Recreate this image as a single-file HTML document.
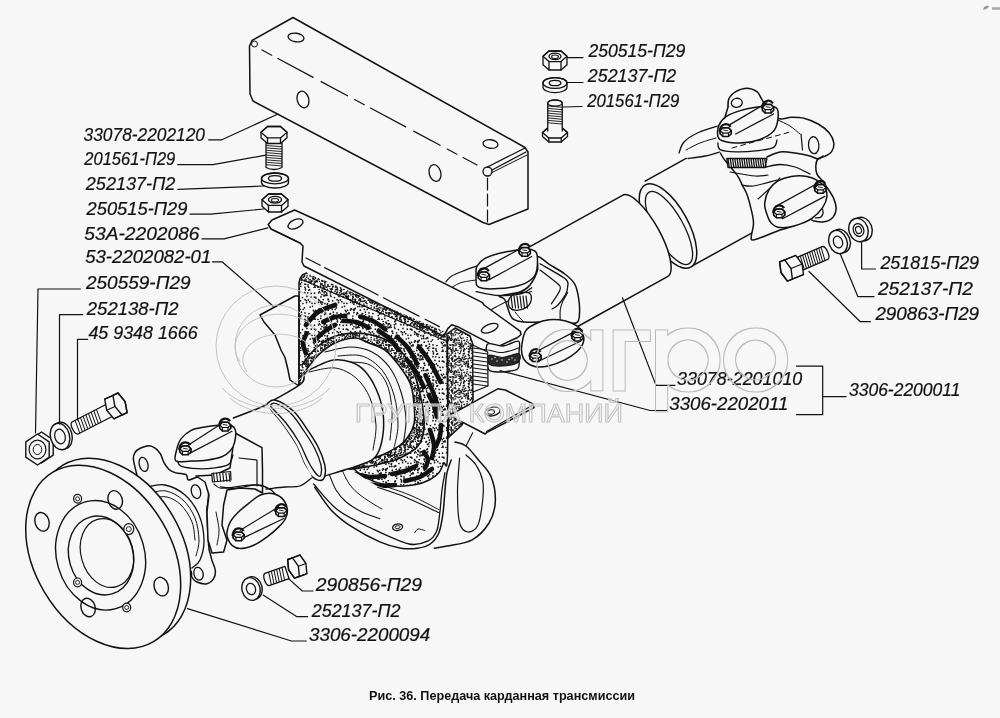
<!DOCTYPE html>
<html><head><meta charset="utf-8"><style>
html,body{margin:0;padding:0;background:#f6f7f6;}
svg{display:block;filter:grayscale(1)}
.lb{font-family:"Liberation Sans",sans-serif;font-style:italic;fill:#111;stroke:#111;stroke-width:0.2px;}
.cap{font-family:"Liberation Sans",sans-serif;font-weight:bold;fill:#111;}
</style></head><body>
<svg width="1000" height="718" viewBox="0 0 1000 718">
<defs><filter id="wmo" x="-5%" y="-5%" width="110%" height="110%"><feMorphology in="SourceAlpha" operator="dilate" radius="0.9" result="d"/><feComposite in="d" in2="SourceAlpha" operator="out" result="o"/><feFlood flood-color="#b9bbb9"/><feComposite in2="o" operator="in"/></filter><pattern id="st1" width="32" height="32" patternUnits="userSpaceOnUse"><circle cx="10.4" cy="4.8" r="0.85" fill="#111"/><circle cx="20.8" cy="2.3" r="0.85" fill="#111"/><circle cx="17.1" cy="11.7" r="0.85" fill="#111"/><circle cx="1.9" cy="16.2" r="0.85" fill="#111"/><circle cx="1.2" cy="13.9" r="0.85" fill="#111"/><circle cx="2.2" cy="2.9" r="0.85" fill="#111"/><circle cx="13.6" cy="26.5" r="0.85" fill="#111"/><circle cx="4.0" cy="7.1" r="0.85" fill="#111"/><circle cx="20.1" cy="30.3" r="0.85" fill="#111"/><circle cx="18.5" cy="12.7" r="0.85" fill="#111"/><circle cx="31.2" cy="1.5" r="0.85" fill="#111"/><circle cx="27.5" cy="9.3" r="0.85" fill="#111"/><circle cx="4.6" cy="3.8" r="0.85" fill="#111"/><circle cx="9.9" cy="26.1" r="0.85" fill="#111"/><circle cx="5.8" cy="18.6" r="0.85" fill="#111"/><circle cx="20.4" cy="11.9" r="0.85" fill="#111"/><circle cx="17.5" cy="2.0" r="0.85" fill="#111"/><circle cx="1.9" cy="6.6" r="0.85" fill="#111"/><circle cx="21.8" cy="13.7" r="0.85" fill="#111"/><circle cx="10.1" cy="18.7" r="0.85" fill="#111"/><circle cx="14.5" cy="9.6" r="0.85" fill="#111"/><circle cx="25.4" cy="22.4" r="0.85" fill="#111"/><circle cx="7.8" cy="18.4" r="0.85" fill="#111"/><circle cx="16.8" cy="28.0" r="0.85" fill="#111"/><circle cx="23.3" cy="9.2" r="0.85" fill="#111"/><circle cx="31.4" cy="3.8" r="0.85" fill="#111"/><circle cx="13.4" cy="24.2" r="0.85" fill="#111"/><circle cx="4.9" cy="15.6" r="0.85" fill="#111"/><circle cx="1.3" cy="21.4" r="0.85" fill="#111"/><circle cx="24.5" cy="18.3" r="0.85" fill="#111"/><circle cx="28.0" cy="10.0" r="0.85" fill="#111"/><circle cx="22.2" cy="19.0" r="0.85" fill="#111"/><circle cx="18.6" cy="14.6" r="0.85" fill="#111"/><circle cx="26.9" cy="30.2" r="0.85" fill="#111"/><circle cx="15.2" cy="21.3" r="0.85" fill="#111"/><circle cx="1.9" cy="22.4" r="0.85" fill="#111"/><circle cx="20.7" cy="31.8" r="0.85" fill="#111"/><circle cx="26.3" cy="9.1" r="0.85" fill="#111"/><circle cx="12.3" cy="21.4" r="0.85" fill="#111"/><circle cx="0.7" cy="14.8" r="0.85" fill="#111"/><circle cx="5.4" cy="3.7" r="0.85" fill="#111"/><circle cx="1.9" cy="24.6" r="0.85" fill="#111"/><circle cx="4.1" cy="7.9" r="0.85" fill="#111"/><circle cx="12.5" cy="27.9" r="0.85" fill="#111"/><circle cx="2.6" cy="14.4" r="0.85" fill="#111"/><circle cx="17.6" cy="28.3" r="0.85" fill="#111"/><circle cx="26.2" cy="27.6" r="0.85" fill="#111"/><circle cx="8.9" cy="13.3" r="0.85" fill="#111"/><circle cx="11.5" cy="28.3" r="0.85" fill="#111"/><circle cx="30.6" cy="4.8" r="0.85" fill="#111"/><circle cx="5.6" cy="7.4" r="0.85" fill="#111"/><circle cx="7.5" cy="15.5" r="0.85" fill="#111"/><circle cx="18.9" cy="8.4" r="0.85" fill="#111"/><circle cx="0.1" cy="13.4" r="0.85" fill="#111"/><circle cx="11.8" cy="18.1" r="0.85" fill="#111"/><circle cx="30.5" cy="22.1" r="0.85" fill="#111"/><circle cx="16.5" cy="19.8" r="0.85" fill="#111"/><circle cx="21.6" cy="1.7" r="0.85" fill="#111"/><circle cx="28.8" cy="25.0" r="0.85" fill="#111"/><circle cx="28.0" cy="25.5" r="0.85" fill="#111"/><circle cx="12.6" cy="12.8" r="0.85" fill="#111"/><circle cx="3.3" cy="20.3" r="0.85" fill="#111"/><circle cx="2.0" cy="2.2" r="0.85" fill="#111"/><circle cx="6.7" cy="5.2" r="0.85" fill="#111"/><circle cx="10.9" cy="1.7" r="0.85" fill="#111"/><circle cx="0.0" cy="4.8" r="0.85" fill="#111"/><circle cx="3.2" cy="11.6" r="0.85" fill="#111"/><circle cx="0.8" cy="28.0" r="0.85" fill="#111"/><circle cx="19.7" cy="4.8" r="0.85" fill="#111"/><circle cx="8.1" cy="11.1" r="0.85" fill="#111"/><circle cx="11.7" cy="3.9" r="0.85" fill="#111"/><circle cx="27.2" cy="31.8" r="0.85" fill="#111"/><circle cx="14.9" cy="15.5" r="0.85" fill="#111"/><circle cx="2.7" cy="3.3" r="0.85" fill="#111"/><circle cx="11.0" cy="8.5" r="0.85" fill="#111"/><circle cx="26.5" cy="5.2" r="0.85" fill="#111"/><circle cx="0.7" cy="30.4" r="0.85" fill="#111"/><circle cx="16.9" cy="4.7" r="0.85" fill="#111"/><circle cx="17.4" cy="0.9" r="0.85" fill="#111"/><circle cx="16.9" cy="31.3" r="0.85" fill="#111"/><circle cx="27.6" cy="22.3" r="0.85" fill="#111"/><circle cx="8.4" cy="11.7" r="0.85" fill="#111"/><circle cx="5.3" cy="24.7" r="0.85" fill="#111"/><circle cx="17.0" cy="24.9" r="0.85" fill="#111"/><circle cx="10.5" cy="7.1" r="0.85" fill="#111"/><circle cx="26.0" cy="31.5" r="0.85" fill="#111"/><circle cx="27.3" cy="25.8" r="0.85" fill="#111"/><circle cx="26.2" cy="23.7" r="0.85" fill="#111"/><circle cx="7.3" cy="16.6" r="0.85" fill="#111"/><circle cx="11.4" cy="0.9" r="0.85" fill="#111"/><circle cx="0.9" cy="8.9" r="0.85" fill="#111"/><circle cx="8.3" cy="22.2" r="0.85" fill="#111"/><circle cx="30.6" cy="14.3" r="0.85" fill="#111"/><circle cx="30.0" cy="31.6" r="0.85" fill="#111"/><circle cx="30.6" cy="11.7" r="0.85" fill="#111"/><circle cx="7.1" cy="7.3" r="0.85" fill="#111"/><circle cx="6.3" cy="6.5" r="0.85" fill="#111"/><circle cx="20.0" cy="28.8" r="0.85" fill="#111"/><circle cx="26.9" cy="15.3" r="0.85" fill="#111"/><circle cx="20.9" cy="25.6" r="0.85" fill="#111"/><circle cx="2.7" cy="21.1" r="0.85" fill="#111"/><circle cx="29.1" cy="25.0" r="0.85" fill="#111"/><circle cx="24.0" cy="15.3" r="0.85" fill="#111"/><circle cx="5.7" cy="25.3" r="0.85" fill="#111"/><circle cx="10.6" cy="25.6" r="0.85" fill="#111"/><circle cx="31.1" cy="12.7" r="0.85" fill="#111"/><circle cx="12.8" cy="30.3" r="0.85" fill="#111"/><circle cx="23.2" cy="5.4" r="0.85" fill="#111"/><circle cx="4.1" cy="4.8" r="0.85" fill="#111"/><circle cx="29.0" cy="25.8" r="0.85" fill="#111"/><circle cx="4.7" cy="26.4" r="0.85" fill="#111"/><circle cx="31.4" cy="21.0" r="0.85" fill="#111"/><circle cx="11.2" cy="17.6" r="0.85" fill="#111"/><circle cx="4.2" cy="0.5" r="0.85" fill="#111"/><circle cx="31.1" cy="20.8" r="0.85" fill="#111"/></pattern><pattern id="st2" width="32" height="32" patternUnits="userSpaceOnUse"><circle cx="16.9" cy="29.9" r="0.62" fill="#111"/><circle cx="13.9" cy="27.9" r="0.62" fill="#111"/><circle cx="26.4" cy="6.8" r="0.62" fill="#111"/><circle cx="8.1" cy="9.4" r="0.62" fill="#111"/><circle cx="7.7" cy="18.8" r="0.62" fill="#111"/><circle cx="8.3" cy="13.4" r="0.62" fill="#111"/><circle cx="4.2" cy="29.1" r="0.62" fill="#111"/><circle cx="11.3" cy="14.7" r="0.62" fill="#111"/><circle cx="18.7" cy="28.9" r="0.62" fill="#111"/><circle cx="13.5" cy="29.4" r="0.62" fill="#111"/><circle cx="16.1" cy="17.0" r="0.62" fill="#111"/><circle cx="16.8" cy="0.6" r="0.62" fill="#111"/><circle cx="14.1" cy="5.9" r="0.62" fill="#111"/><circle cx="0.1" cy="25.6" r="0.62" fill="#111"/><circle cx="5.5" cy="15.2" r="0.62" fill="#111"/><circle cx="23.2" cy="17.8" r="0.62" fill="#111"/><circle cx="10.4" cy="16.6" r="0.62" fill="#111"/><circle cx="17.8" cy="25.1" r="0.62" fill="#111"/><circle cx="3.4" cy="17.9" r="0.62" fill="#111"/><circle cx="8.0" cy="8.9" r="0.62" fill="#111"/><circle cx="24.7" cy="16.2" r="0.62" fill="#111"/><circle cx="18.0" cy="24.3" r="0.62" fill="#111"/><circle cx="29.2" cy="14.2" r="0.62" fill="#111"/><circle cx="19.6" cy="16.2" r="0.62" fill="#111"/><circle cx="16.4" cy="22.2" r="0.62" fill="#111"/><circle cx="14.5" cy="17.1" r="0.62" fill="#111"/><circle cx="15.3" cy="30.1" r="0.62" fill="#111"/><circle cx="22.4" cy="28.0" r="0.62" fill="#111"/><circle cx="30.1" cy="8.3" r="0.62" fill="#111"/><circle cx="17.9" cy="30.2" r="0.62" fill="#111"/><circle cx="26.9" cy="4.4" r="0.62" fill="#111"/><circle cx="3.9" cy="14.1" r="0.62" fill="#111"/><circle cx="2.3" cy="7.7" r="0.62" fill="#111"/><circle cx="2.3" cy="21.4" r="0.62" fill="#111"/><circle cx="25.1" cy="28.7" r="0.62" fill="#111"/><circle cx="4.9" cy="22.9" r="0.62" fill="#111"/><circle cx="21.1" cy="4.6" r="0.62" fill="#111"/><circle cx="28.3" cy="31.0" r="0.62" fill="#111"/><circle cx="7.0" cy="30.5" r="0.62" fill="#111"/><circle cx="12.7" cy="15.6" r="0.62" fill="#111"/><circle cx="31.7" cy="26.6" r="0.62" fill="#111"/><circle cx="5.2" cy="13.8" r="0.62" fill="#111"/><circle cx="16.5" cy="10.9" r="0.62" fill="#111"/><circle cx="6.3" cy="10.2" r="0.62" fill="#111"/><circle cx="23.1" cy="0.6" r="0.62" fill="#111"/><circle cx="17.7" cy="14.1" r="0.62" fill="#111"/><circle cx="0.6" cy="10.6" r="0.62" fill="#111"/><circle cx="20.0" cy="16.4" r="0.62" fill="#111"/><circle cx="2.1" cy="31.5" r="0.62" fill="#111"/><circle cx="25.2" cy="31.1" r="0.62" fill="#111"/><circle cx="3.4" cy="8.5" r="0.62" fill="#111"/><circle cx="1.3" cy="24.9" r="0.62" fill="#111"/><circle cx="8.7" cy="4.1" r="0.62" fill="#111"/><circle cx="13.5" cy="29.2" r="0.62" fill="#111"/><circle cx="26.2" cy="8.3" r="0.62" fill="#111"/><circle cx="4.8" cy="29.4" r="0.62" fill="#111"/><circle cx="18.3" cy="22.4" r="0.62" fill="#111"/><circle cx="2.9" cy="1.8" r="0.62" fill="#111"/><circle cx="22.0" cy="13.6" r="0.62" fill="#111"/><circle cx="2.3" cy="30.0" r="0.62" fill="#111"/><circle cx="20.3" cy="25.7" r="0.62" fill="#111"/><circle cx="2.7" cy="27.4" r="0.62" fill="#111"/><circle cx="2.1" cy="27.6" r="0.62" fill="#111"/><circle cx="14.5" cy="10.9" r="0.62" fill="#111"/><circle cx="17.7" cy="29.7" r="0.62" fill="#111"/><circle cx="8.6" cy="4.1" r="0.62" fill="#111"/><circle cx="16.9" cy="7.6" r="0.62" fill="#111"/><circle cx="3.5" cy="5.2" r="0.62" fill="#111"/><circle cx="1.6" cy="6.5" r="0.62" fill="#111"/><circle cx="10.0" cy="9.8" r="0.62" fill="#111"/><circle cx="24.3" cy="9.3" r="0.62" fill="#111"/><circle cx="16.0" cy="5.7" r="0.62" fill="#111"/><circle cx="11.1" cy="0.6" r="0.62" fill="#111"/><circle cx="8.0" cy="0.5" r="0.62" fill="#111"/><circle cx="23.5" cy="17.6" r="0.62" fill="#111"/><circle cx="6.1" cy="15.2" r="0.62" fill="#111"/><circle cx="29.9" cy="3.4" r="0.62" fill="#111"/><circle cx="26.2" cy="13.8" r="0.62" fill="#111"/><circle cx="15.8" cy="26.7" r="0.62" fill="#111"/><circle cx="12.6" cy="16.2" r="0.62" fill="#111"/><circle cx="22.0" cy="31.4" r="0.62" fill="#111"/><circle cx="11.0" cy="26.6" r="0.62" fill="#111"/><circle cx="22.6" cy="20.4" r="0.62" fill="#111"/><circle cx="13.0" cy="11.1" r="0.62" fill="#111"/><circle cx="1.7" cy="4.2" r="0.62" fill="#111"/><circle cx="2.3" cy="23.7" r="0.62" fill="#111"/><circle cx="8.2" cy="5.2" r="0.62" fill="#111"/><circle cx="2.7" cy="26.9" r="0.62" fill="#111"/><circle cx="27.9" cy="21.5" r="0.62" fill="#111"/><circle cx="9.0" cy="7.8" r="0.62" fill="#111"/><circle cx="9.4" cy="14.7" r="0.62" fill="#111"/><circle cx="5.0" cy="14.3" r="0.62" fill="#111"/><circle cx="8.4" cy="30.8" r="0.62" fill="#111"/><circle cx="31.1" cy="17.5" r="0.62" fill="#111"/><circle cx="7.8" cy="30.9" r="0.62" fill="#111"/><circle cx="9.9" cy="11.4" r="0.62" fill="#111"/><circle cx="0.0" cy="12.2" r="0.62" fill="#111"/><circle cx="15.2" cy="16.1" r="0.62" fill="#111"/><circle cx="6.4" cy="16.2" r="0.62" fill="#111"/><circle cx="0.2" cy="8.5" r="0.62" fill="#111"/><circle cx="2.9" cy="12.8" r="0.62" fill="#111"/><circle cx="1.3" cy="0.7" r="0.62" fill="#111"/><circle cx="9.7" cy="7.4" r="0.62" fill="#111"/><circle cx="18.7" cy="16.9" r="0.62" fill="#111"/><circle cx="24.0" cy="21.0" r="0.62" fill="#111"/><circle cx="22.9" cy="28.1" r="0.62" fill="#111"/><circle cx="12.5" cy="10.4" r="0.62" fill="#111"/><circle cx="31.5" cy="4.8" r="0.62" fill="#111"/><circle cx="23.2" cy="20.6" r="0.62" fill="#111"/><circle cx="1.4" cy="26.7" r="0.62" fill="#111"/><circle cx="28.5" cy="20.1" r="0.62" fill="#111"/><circle cx="23.5" cy="26.0" r="0.62" fill="#111"/><circle cx="4.5" cy="16.8" r="0.62" fill="#111"/><circle cx="16.1" cy="26.7" r="0.62" fill="#111"/><circle cx="25.7" cy="26.4" r="0.62" fill="#111"/><circle cx="18.7" cy="28.6" r="0.62" fill="#111"/><circle cx="21.9" cy="22.2" r="0.62" fill="#111"/><circle cx="7.4" cy="1.0" r="0.62" fill="#111"/><circle cx="4.3" cy="11.5" r="0.62" fill="#111"/><circle cx="3.4" cy="26.7" r="0.62" fill="#111"/><circle cx="17.9" cy="20.1" r="0.62" fill="#111"/><circle cx="20.0" cy="21.8" r="0.62" fill="#111"/><circle cx="15.7" cy="0.1" r="0.62" fill="#111"/><circle cx="25.5" cy="23.9" r="0.62" fill="#111"/><circle cx="16.1" cy="17.1" r="0.62" fill="#111"/><circle cx="21.1" cy="2.1" r="0.62" fill="#111"/><circle cx="23.6" cy="8.1" r="0.62" fill="#111"/><circle cx="2.4" cy="8.5" r="0.62" fill="#111"/><circle cx="23.3" cy="6.6" r="0.62" fill="#111"/><circle cx="23.7" cy="31.2" r="0.62" fill="#111"/><circle cx="15.8" cy="12.2" r="0.62" fill="#111"/><circle cx="15.3" cy="21.9" r="0.62" fill="#111"/><circle cx="24.5" cy="19.7" r="0.62" fill="#111"/><circle cx="20.6" cy="2.5" r="0.62" fill="#111"/><circle cx="4.7" cy="8.1" r="0.62" fill="#111"/><circle cx="23.8" cy="9.7" r="0.62" fill="#111"/><circle cx="18.2" cy="0.4" r="0.62" fill="#111"/><circle cx="1.9" cy="8.6" r="0.62" fill="#111"/><circle cx="21.5" cy="22.1" r="0.62" fill="#111"/><circle cx="21.6" cy="9.3" r="0.62" fill="#111"/><circle cx="16.5" cy="14.9" r="0.62" fill="#111"/><circle cx="14.9" cy="3.8" r="0.62" fill="#111"/><circle cx="28.6" cy="6.4" r="0.62" fill="#111"/><circle cx="31.3" cy="30.0" r="0.62" fill="#111"/><circle cx="0.6" cy="14.7" r="0.62" fill="#111"/><circle cx="26.2" cy="31.0" r="0.62" fill="#111"/><circle cx="14.4" cy="8.6" r="0.62" fill="#111"/><circle cx="6.7" cy="30.3" r="0.62" fill="#111"/><circle cx="6.7" cy="18.6" r="0.62" fill="#111"/><circle cx="4.5" cy="16.8" r="0.62" fill="#111"/><circle cx="30.5" cy="4.2" r="0.62" fill="#111"/><circle cx="26.2" cy="16.3" r="0.62" fill="#111"/><circle cx="28.4" cy="22.5" r="0.62" fill="#111"/><circle cx="7.4" cy="28.7" r="0.62" fill="#111"/><circle cx="15.6" cy="0.8" r="0.62" fill="#111"/><circle cx="0.1" cy="15.7" r="0.62" fill="#111"/><circle cx="14.4" cy="9.7" r="0.62" fill="#111"/><circle cx="4.5" cy="11.0" r="0.62" fill="#111"/><circle cx="10.1" cy="26.9" r="0.62" fill="#111"/><circle cx="0.1" cy="24.0" r="0.62" fill="#111"/><circle cx="26.9" cy="3.8" r="0.62" fill="#111"/><circle cx="29.6" cy="22.8" r="0.62" fill="#111"/><circle cx="28.9" cy="9.3" r="0.62" fill="#111"/><circle cx="11.9" cy="12.6" r="0.62" fill="#111"/><circle cx="32.0" cy="18.9" r="0.62" fill="#111"/><circle cx="11.5" cy="13.7" r="0.62" fill="#111"/><circle cx="8.8" cy="1.5" r="0.62" fill="#111"/><circle cx="3.3" cy="26.7" r="0.62" fill="#111"/><circle cx="9.1" cy="29.9" r="0.62" fill="#111"/><circle cx="8.0" cy="8.5" r="0.62" fill="#111"/><circle cx="16.4" cy="6.1" r="0.62" fill="#111"/><circle cx="11.9" cy="30.6" r="0.62" fill="#111"/><circle cx="28.3" cy="26.0" r="0.62" fill="#111"/><circle cx="20.2" cy="29.2" r="0.62" fill="#111"/><circle cx="30.1" cy="17.6" r="0.62" fill="#111"/><circle cx="23.0" cy="1.6" r="0.62" fill="#111"/><circle cx="23.4" cy="14.4" r="0.62" fill="#111"/><circle cx="24.1" cy="20.6" r="0.62" fill="#111"/><circle cx="9.2" cy="1.6" r="0.62" fill="#111"/><circle cx="29.7" cy="4.1" r="0.62" fill="#111"/><circle cx="15.1" cy="11.0" r="0.62" fill="#111"/><circle cx="9.5" cy="23.6" r="0.62" fill="#111"/><circle cx="31.2" cy="8.3" r="0.62" fill="#111"/><circle cx="21.0" cy="9.6" r="0.62" fill="#111"/><circle cx="17.8" cy="12.6" r="0.62" fill="#111"/><circle cx="5.4" cy="5.2" r="0.62" fill="#111"/><circle cx="6.7" cy="29.0" r="0.62" fill="#111"/><circle cx="15.9" cy="7.0" r="0.62" fill="#111"/><circle cx="29.0" cy="31.9" r="0.62" fill="#111"/><circle cx="14.4" cy="4.5" r="0.62" fill="#111"/><circle cx="6.2" cy="2.9" r="0.62" fill="#111"/><circle cx="10.9" cy="2.9" r="0.62" fill="#111"/><circle cx="7.7" cy="8.3" r="0.62" fill="#111"/><circle cx="18.2" cy="28.4" r="0.62" fill="#111"/><circle cx="24.0" cy="13.2" r="0.62" fill="#111"/><circle cx="13.2" cy="16.8" r="0.62" fill="#111"/><circle cx="12.1" cy="10.8" r="0.62" fill="#111"/><circle cx="2.0" cy="8.9" r="0.62" fill="#111"/><circle cx="31.0" cy="4.0" r="0.62" fill="#111"/><circle cx="16.1" cy="20.1" r="0.62" fill="#111"/><circle cx="27.6" cy="6.9" r="0.62" fill="#111"/><circle cx="8.7" cy="8.0" r="0.62" fill="#111"/><circle cx="12.8" cy="14.3" r="0.62" fill="#111"/><circle cx="30.5" cy="27.2" r="0.62" fill="#111"/><circle cx="27.9" cy="0.7" r="0.62" fill="#111"/><circle cx="1.0" cy="22.7" r="0.62" fill="#111"/><circle cx="28.7" cy="15.1" r="0.62" fill="#111"/><circle cx="18.8" cy="0.0" r="0.62" fill="#111"/><circle cx="12.5" cy="29.7" r="0.62" fill="#111"/><circle cx="26.4" cy="27.4" r="0.62" fill="#111"/><circle cx="31.1" cy="8.0" r="0.62" fill="#111"/><circle cx="3.5" cy="4.9" r="0.62" fill="#111"/><circle cx="16.7" cy="21.8" r="0.62" fill="#111"/><circle cx="30.1" cy="23.1" r="0.62" fill="#111"/><circle cx="20.7" cy="24.5" r="0.62" fill="#111"/><circle cx="14.6" cy="17.6" r="0.62" fill="#111"/><circle cx="1.3" cy="25.0" r="0.62" fill="#111"/><circle cx="7.4" cy="29.4" r="0.62" fill="#111"/><circle cx="20.7" cy="9.7" r="0.62" fill="#111"/><circle cx="4.1" cy="8.1" r="0.62" fill="#111"/><circle cx="20.4" cy="22.4" r="0.62" fill="#111"/><circle cx="3.6" cy="2.3" r="0.62" fill="#111"/><circle cx="16.8" cy="18.7" r="0.62" fill="#111"/><circle cx="12.4" cy="7.2" r="0.62" fill="#111"/><circle cx="19.2" cy="0.3" r="0.62" fill="#111"/><circle cx="9.6" cy="14.7" r="0.62" fill="#111"/><circle cx="30.7" cy="20.6" r="0.62" fill="#111"/><circle cx="28.3" cy="15.2" r="0.62" fill="#111"/><circle cx="7.5" cy="7.9" r="0.62" fill="#111"/><circle cx="30.7" cy="22.5" r="0.62" fill="#111"/><circle cx="9.8" cy="0.7" r="0.62" fill="#111"/><circle cx="15.9" cy="21.6" r="0.62" fill="#111"/><circle cx="13.4" cy="8.2" r="0.62" fill="#111"/><circle cx="21.4" cy="29.6" r="0.62" fill="#111"/><circle cx="7.3" cy="1.1" r="0.62" fill="#111"/><circle cx="10.8" cy="13.5" r="0.62" fill="#111"/><circle cx="21.8" cy="6.3" r="0.62" fill="#111"/><circle cx="25.5" cy="23.7" r="0.62" fill="#111"/><circle cx="16.2" cy="6.6" r="0.62" fill="#111"/><circle cx="31.0" cy="10.0" r="0.62" fill="#111"/><circle cx="26.2" cy="7.4" r="0.62" fill="#111"/><circle cx="7.1" cy="24.3" r="0.62" fill="#111"/><circle cx="9.4" cy="30.5" r="0.62" fill="#111"/><circle cx="15.9" cy="6.0" r="0.62" fill="#111"/><circle cx="7.1" cy="13.3" r="0.62" fill="#111"/><circle cx="21.3" cy="30.4" r="0.62" fill="#111"/><circle cx="4.7" cy="12.6" r="0.62" fill="#111"/><circle cx="6.8" cy="31.2" r="0.62" fill="#111"/><circle cx="4.5" cy="1.7" r="0.62" fill="#111"/><circle cx="1.9" cy="12.6" r="0.62" fill="#111"/><circle cx="28.7" cy="28.3" r="0.62" fill="#111"/><circle cx="23.4" cy="31.9" r="0.62" fill="#111"/><circle cx="29.8" cy="10.5" r="0.62" fill="#111"/><circle cx="5.9" cy="29.9" r="0.62" fill="#111"/><circle cx="23.9" cy="1.0" r="0.62" fill="#111"/><circle cx="21.3" cy="12.1" r="0.62" fill="#111"/><circle cx="12.0" cy="10.6" r="0.62" fill="#111"/><circle cx="5.4" cy="0.1" r="0.62" fill="#111"/><circle cx="9.0" cy="11.2" r="0.62" fill="#111"/><circle cx="30.6" cy="4.0" r="0.62" fill="#111"/><circle cx="30.9" cy="6.6" r="0.62" fill="#111"/><circle cx="11.4" cy="26.3" r="0.62" fill="#111"/><circle cx="26.3" cy="13.8" r="0.62" fill="#111"/><circle cx="1.6" cy="15.2" r="0.62" fill="#111"/><circle cx="11.9" cy="29.4" r="0.62" fill="#111"/><circle cx="6.2" cy="11.7" r="0.62" fill="#111"/><circle cx="28.7" cy="1.0" r="0.62" fill="#111"/><circle cx="13.1" cy="26.0" r="0.62" fill="#111"/><circle cx="24.5" cy="1.3" r="0.62" fill="#111"/><circle cx="1.1" cy="2.0" r="0.62" fill="#111"/><circle cx="29.4" cy="8.2" r="0.62" fill="#111"/><circle cx="23.9" cy="28.8" r="0.62" fill="#111"/><circle cx="10.9" cy="8.7" r="0.62" fill="#111"/><circle cx="30.6" cy="19.7" r="0.62" fill="#111"/><circle cx="8.4" cy="22.9" r="0.62" fill="#111"/><circle cx="10.1" cy="8.8" r="0.62" fill="#111"/><circle cx="0.1" cy="24.2" r="0.62" fill="#111"/><circle cx="29.3" cy="20.3" r="0.62" fill="#111"/><circle cx="30.2" cy="0.8" r="0.62" fill="#111"/><circle cx="7.5" cy="15.2" r="0.62" fill="#111"/><circle cx="30.6" cy="30.5" r="0.62" fill="#111"/><circle cx="12.4" cy="8.0" r="0.62" fill="#111"/><circle cx="13.8" cy="15.8" r="0.62" fill="#111"/><circle cx="29.7" cy="5.9" r="0.62" fill="#111"/><circle cx="25.7" cy="23.6" r="0.62" fill="#111"/><circle cx="26.3" cy="24.7" r="0.62" fill="#111"/><circle cx="19.4" cy="10.5" r="0.62" fill="#111"/><circle cx="10.2" cy="11.6" r="0.62" fill="#111"/><circle cx="25.0" cy="2.5" r="0.62" fill="#111"/><circle cx="6.3" cy="24.1" r="0.62" fill="#111"/><circle cx="7.9" cy="2.1" r="0.62" fill="#111"/><circle cx="1.1" cy="17.7" r="0.62" fill="#111"/><circle cx="10.4" cy="31.4" r="0.62" fill="#111"/><circle cx="28.3" cy="31.6" r="0.62" fill="#111"/><circle cx="8.5" cy="2.7" r="0.62" fill="#111"/><circle cx="3.1" cy="16.0" r="0.62" fill="#111"/><circle cx="22.7" cy="14.3" r="0.62" fill="#111"/><circle cx="7.5" cy="13.3" r="0.62" fill="#111"/><circle cx="19.8" cy="21.6" r="0.62" fill="#111"/><circle cx="23.9" cy="27.1" r="0.62" fill="#111"/></pattern><pattern id="st3" width="32" height="32" patternUnits="userSpaceOnUse"><circle cx="21.3" cy="3.9" r="0.8" fill="#111"/><circle cx="26.9" cy="9.4" r="0.8" fill="#111"/><circle cx="18.1" cy="11.9" r="0.8" fill="#111"/><circle cx="23.6" cy="6.4" r="0.8" fill="#111"/><circle cx="7.9" cy="7.9" r="0.8" fill="#111"/><circle cx="4.9" cy="28.3" r="0.8" fill="#111"/><circle cx="18.5" cy="10.4" r="0.8" fill="#111"/><circle cx="12.7" cy="31.8" r="0.8" fill="#111"/><circle cx="16.2" cy="7.4" r="0.8" fill="#111"/><circle cx="25.9" cy="20.9" r="0.8" fill="#111"/><circle cx="31.7" cy="3.3" r="0.8" fill="#111"/><circle cx="15.2" cy="26.2" r="0.8" fill="#111"/><circle cx="26.9" cy="29.3" r="0.8" fill="#111"/><circle cx="1.3" cy="9.4" r="0.8" fill="#111"/><circle cx="3.8" cy="6.1" r="0.8" fill="#111"/><circle cx="31.1" cy="18.7" r="0.8" fill="#111"/><circle cx="29.8" cy="11.9" r="0.8" fill="#111"/><circle cx="27.7" cy="14.4" r="0.8" fill="#111"/><circle cx="8.3" cy="24.9" r="0.8" fill="#111"/><circle cx="30.3" cy="3.4" r="0.8" fill="#111"/><circle cx="19.1" cy="19.8" r="0.8" fill="#111"/><circle cx="7.0" cy="11.8" r="0.8" fill="#111"/><circle cx="4.5" cy="6.5" r="0.8" fill="#111"/><circle cx="8.2" cy="19.2" r="0.8" fill="#111"/><circle cx="20.9" cy="6.5" r="0.8" fill="#111"/><circle cx="0.4" cy="10.5" r="0.8" fill="#111"/><circle cx="21.7" cy="5.9" r="0.8" fill="#111"/><circle cx="10.0" cy="6.5" r="0.8" fill="#111"/><circle cx="25.4" cy="17.5" r="0.8" fill="#111"/><circle cx="2.0" cy="3.2" r="0.8" fill="#111"/><circle cx="12.6" cy="17.6" r="0.8" fill="#111"/><circle cx="20.5" cy="2.9" r="0.8" fill="#111"/><circle cx="5.2" cy="22.3" r="0.8" fill="#111"/><circle cx="13.1" cy="9.1" r="0.8" fill="#111"/><circle cx="9.8" cy="30.5" r="0.8" fill="#111"/><circle cx="10.0" cy="18.1" r="0.8" fill="#111"/><circle cx="11.4" cy="13.3" r="0.8" fill="#111"/><circle cx="27.7" cy="31.9" r="0.8" fill="#111"/><circle cx="11.6" cy="6.3" r="0.8" fill="#111"/><circle cx="23.3" cy="6.5" r="0.8" fill="#111"/><circle cx="0.2" cy="28.9" r="0.8" fill="#111"/><circle cx="13.6" cy="26.3" r="0.8" fill="#111"/><circle cx="13.0" cy="28.3" r="0.8" fill="#111"/><circle cx="14.7" cy="5.2" r="0.8" fill="#111"/><circle cx="0.5" cy="17.6" r="0.8" fill="#111"/><circle cx="20.5" cy="29.1" r="0.8" fill="#111"/><circle cx="2.8" cy="19.9" r="0.8" fill="#111"/><circle cx="11.9" cy="16.1" r="0.8" fill="#111"/><circle cx="4.7" cy="9.1" r="0.8" fill="#111"/><circle cx="16.7" cy="29.6" r="0.8" fill="#111"/><circle cx="3.5" cy="15.7" r="0.8" fill="#111"/><circle cx="25.8" cy="30.9" r="0.8" fill="#111"/><circle cx="6.3" cy="4.1" r="0.8" fill="#111"/><circle cx="30.2" cy="31.2" r="0.8" fill="#111"/><circle cx="15.4" cy="1.7" r="0.8" fill="#111"/><circle cx="29.6" cy="12.4" r="0.8" fill="#111"/><circle cx="28.9" cy="19.9" r="0.8" fill="#111"/><circle cx="26.4" cy="5.1" r="0.8" fill="#111"/><circle cx="25.1" cy="7.1" r="0.8" fill="#111"/><circle cx="12.9" cy="27.1" r="0.8" fill="#111"/><circle cx="26.5" cy="5.9" r="0.8" fill="#111"/><circle cx="7.0" cy="12.8" r="0.8" fill="#111"/><circle cx="16.6" cy="12.3" r="0.8" fill="#111"/><circle cx="3.9" cy="7.9" r="0.8" fill="#111"/><circle cx="23.2" cy="28.7" r="0.8" fill="#111"/><circle cx="1.3" cy="18.0" r="0.8" fill="#111"/><circle cx="24.2" cy="1.2" r="0.8" fill="#111"/><circle cx="26.8" cy="3.8" r="0.8" fill="#111"/><circle cx="19.2" cy="17.6" r="0.8" fill="#111"/><circle cx="20.1" cy="9.8" r="0.8" fill="#111"/><circle cx="13.4" cy="18.6" r="0.8" fill="#111"/><circle cx="13.6" cy="21.1" r="0.8" fill="#111"/><circle cx="14.3" cy="14.0" r="0.8" fill="#111"/><circle cx="0.7" cy="19.8" r="0.8" fill="#111"/><circle cx="15.7" cy="7.5" r="0.8" fill="#111"/><circle cx="24.4" cy="25.0" r="0.8" fill="#111"/><circle cx="14.7" cy="5.7" r="0.8" fill="#111"/><circle cx="15.1" cy="3.4" r="0.8" fill="#111"/><circle cx="4.1" cy="13.8" r="0.8" fill="#111"/><circle cx="2.9" cy="14.1" r="0.8" fill="#111"/><circle cx="16.3" cy="1.3" r="0.8" fill="#111"/><circle cx="20.4" cy="2.6" r="0.8" fill="#111"/><circle cx="23.5" cy="24.9" r="0.8" fill="#111"/><circle cx="16.4" cy="1.7" r="0.8" fill="#111"/><circle cx="16.1" cy="12.1" r="0.8" fill="#111"/><circle cx="30.4" cy="4.4" r="0.8" fill="#111"/><circle cx="27.4" cy="31.9" r="0.8" fill="#111"/><circle cx="23.4" cy="26.1" r="0.8" fill="#111"/><circle cx="6.2" cy="31.4" r="0.8" fill="#111"/><circle cx="15.7" cy="30.6" r="0.8" fill="#111"/><circle cx="29.3" cy="5.3" r="0.8" fill="#111"/><circle cx="25.2" cy="29.8" r="0.8" fill="#111"/><circle cx="2.1" cy="11.2" r="0.8" fill="#111"/><circle cx="24.2" cy="5.1" r="0.8" fill="#111"/><circle cx="28.7" cy="8.8" r="0.8" fill="#111"/><circle cx="26.1" cy="4.6" r="0.8" fill="#111"/><circle cx="16.1" cy="29.4" r="0.8" fill="#111"/><circle cx="6.7" cy="8.4" r="0.8" fill="#111"/><circle cx="16.2" cy="10.2" r="0.8" fill="#111"/><circle cx="1.2" cy="5.8" r="0.8" fill="#111"/><circle cx="5.2" cy="30.0" r="0.8" fill="#111"/><circle cx="21.7" cy="28.7" r="0.8" fill="#111"/><circle cx="5.4" cy="25.1" r="0.8" fill="#111"/><circle cx="3.7" cy="17.0" r="0.8" fill="#111"/><circle cx="20.4" cy="11.5" r="0.8" fill="#111"/><circle cx="27.9" cy="17.8" r="0.8" fill="#111"/><circle cx="18.6" cy="28.2" r="0.8" fill="#111"/><circle cx="3.3" cy="31.8" r="0.8" fill="#111"/><circle cx="20.2" cy="12.6" r="0.8" fill="#111"/><circle cx="25.5" cy="8.5" r="0.8" fill="#111"/><circle cx="31.7" cy="18.5" r="0.8" fill="#111"/><circle cx="11.5" cy="24.5" r="0.8" fill="#111"/><circle cx="14.2" cy="5.7" r="0.8" fill="#111"/><circle cx="23.8" cy="1.5" r="0.8" fill="#111"/><circle cx="26.2" cy="8.1" r="0.8" fill="#111"/><circle cx="20.5" cy="31.5" r="0.8" fill="#111"/><circle cx="18.7" cy="21.2" r="0.8" fill="#111"/><circle cx="10.0" cy="0.1" r="0.8" fill="#111"/><circle cx="1.1" cy="4.8" r="0.8" fill="#111"/><circle cx="19.7" cy="13.8" r="0.8" fill="#111"/><circle cx="16.4" cy="28.7" r="0.8" fill="#111"/><circle cx="4.2" cy="7.3" r="0.8" fill="#111"/><circle cx="20.9" cy="0.7" r="0.8" fill="#111"/><circle cx="0.1" cy="11.4" r="0.8" fill="#111"/><circle cx="3.4" cy="11.4" r="0.8" fill="#111"/><circle cx="7.2" cy="18.7" r="0.8" fill="#111"/><circle cx="18.9" cy="6.5" r="0.8" fill="#111"/><circle cx="20.0" cy="15.2" r="0.8" fill="#111"/><circle cx="4.3" cy="30.0" r="0.8" fill="#111"/><circle cx="7.8" cy="4.8" r="0.8" fill="#111"/><circle cx="3.1" cy="20.4" r="0.8" fill="#111"/><circle cx="27.9" cy="25.0" r="0.8" fill="#111"/><circle cx="12.9" cy="8.5" r="0.8" fill="#111"/><circle cx="0.4" cy="20.6" r="0.8" fill="#111"/><circle cx="18.0" cy="11.2" r="0.8" fill="#111"/><circle cx="20.7" cy="14.2" r="0.8" fill="#111"/><circle cx="30.0" cy="23.5" r="0.8" fill="#111"/><circle cx="8.0" cy="28.9" r="0.8" fill="#111"/><circle cx="1.4" cy="17.0" r="0.8" fill="#111"/><circle cx="13.0" cy="7.6" r="0.8" fill="#111"/><circle cx="1.9" cy="24.9" r="0.8" fill="#111"/><circle cx="0.4" cy="17.6" r="0.8" fill="#111"/><circle cx="30.1" cy="4.6" r="0.8" fill="#111"/><circle cx="6.4" cy="19.5" r="0.8" fill="#111"/><circle cx="16.2" cy="20.5" r="0.8" fill="#111"/><circle cx="26.0" cy="5.6" r="0.8" fill="#111"/><circle cx="9.9" cy="9.6" r="0.8" fill="#111"/><circle cx="1.6" cy="28.5" r="0.8" fill="#111"/><circle cx="25.1" cy="22.9" r="0.8" fill="#111"/><circle cx="0.2" cy="27.0" r="0.8" fill="#111"/><circle cx="23.8" cy="14.9" r="0.8" fill="#111"/><circle cx="23.7" cy="14.5" r="0.8" fill="#111"/><circle cx="7.2" cy="3.4" r="0.8" fill="#111"/><circle cx="7.4" cy="1.2" r="0.8" fill="#111"/><circle cx="10.7" cy="24.0" r="0.8" fill="#111"/><circle cx="22.2" cy="27.1" r="0.8" fill="#111"/><circle cx="22.8" cy="8.5" r="0.8" fill="#111"/><circle cx="17.7" cy="14.0" r="0.8" fill="#111"/><circle cx="25.2" cy="16.7" r="0.8" fill="#111"/><circle cx="8.5" cy="20.5" r="0.8" fill="#111"/><circle cx="30.9" cy="6.9" r="0.8" fill="#111"/><circle cx="28.2" cy="0.5" r="0.8" fill="#111"/><circle cx="8.3" cy="7.6" r="0.8" fill="#111"/><circle cx="23.8" cy="30.2" r="0.8" fill="#111"/><circle cx="23.9" cy="10.5" r="0.8" fill="#111"/><circle cx="28.2" cy="10.5" r="0.8" fill="#111"/><circle cx="7.7" cy="29.0" r="0.8" fill="#111"/><circle cx="20.2" cy="22.2" r="0.8" fill="#111"/><circle cx="21.3" cy="31.3" r="0.8" fill="#111"/><circle cx="15.0" cy="26.9" r="0.8" fill="#111"/><circle cx="22.3" cy="27.4" r="0.8" fill="#111"/><circle cx="14.0" cy="23.2" r="0.8" fill="#111"/><circle cx="18.3" cy="9.8" r="0.8" fill="#111"/><circle cx="6.8" cy="19.9" r="0.8" fill="#111"/><circle cx="2.5" cy="29.1" r="0.8" fill="#111"/><circle cx="4.6" cy="0.9" r="0.8" fill="#111"/><circle cx="3.4" cy="29.7" r="0.8" fill="#111"/><circle cx="11.0" cy="4.5" r="0.8" fill="#111"/><circle cx="0.9" cy="1.3" r="0.8" fill="#111"/><circle cx="22.2" cy="20.3" r="0.8" fill="#111"/><circle cx="22.3" cy="23.6" r="0.8" fill="#111"/><circle cx="2.1" cy="18.9" r="0.8" fill="#111"/><circle cx="11.6" cy="26.2" r="0.8" fill="#111"/><circle cx="26.2" cy="28.5" r="0.8" fill="#111"/><circle cx="2.1" cy="27.8" r="0.8" fill="#111"/><circle cx="29.3" cy="30.2" r="0.8" fill="#111"/><circle cx="3.4" cy="6.6" r="0.8" fill="#111"/><circle cx="3.6" cy="1.1" r="0.8" fill="#111"/><circle cx="27.1" cy="26.0" r="0.8" fill="#111"/><circle cx="20.3" cy="26.4" r="0.8" fill="#111"/><circle cx="20.2" cy="9.2" r="0.8" fill="#111"/><circle cx="3.2" cy="3.1" r="0.8" fill="#111"/><circle cx="24.2" cy="6.6" r="0.8" fill="#111"/><circle cx="10.2" cy="13.6" r="0.8" fill="#111"/><circle cx="0.7" cy="8.2" r="0.8" fill="#111"/><circle cx="9.0" cy="22.9" r="0.8" fill="#111"/><circle cx="11.8" cy="10.3" r="0.8" fill="#111"/><circle cx="30.8" cy="16.1" r="0.8" fill="#111"/><circle cx="27.2" cy="19.8" r="0.8" fill="#111"/><circle cx="1.0" cy="13.2" r="0.8" fill="#111"/><circle cx="14.0" cy="24.7" r="0.8" fill="#111"/><circle cx="11.1" cy="22.5" r="0.8" fill="#111"/><circle cx="17.2" cy="6.9" r="0.8" fill="#111"/><circle cx="27.6" cy="2.9" r="0.8" fill="#111"/><circle cx="26.2" cy="5.5" r="0.8" fill="#111"/><circle cx="0.0" cy="6.5" r="0.8" fill="#111"/><circle cx="24.4" cy="31.3" r="0.8" fill="#111"/><circle cx="0.1" cy="15.7" r="0.8" fill="#111"/><circle cx="15.7" cy="25.5" r="0.8" fill="#111"/><circle cx="5.9" cy="15.8" r="0.8" fill="#111"/><circle cx="11.1" cy="26.6" r="0.8" fill="#111"/><circle cx="8.3" cy="30.2" r="0.8" fill="#111"/><circle cx="9.1" cy="6.9" r="0.8" fill="#111"/><circle cx="22.4" cy="15.9" r="0.8" fill="#111"/><circle cx="3.5" cy="20.4" r="0.8" fill="#111"/><circle cx="2.6" cy="25.2" r="0.8" fill="#111"/><circle cx="22.3" cy="25.2" r="0.8" fill="#111"/><circle cx="20.1" cy="11.4" r="0.8" fill="#111"/><circle cx="12.8" cy="12.6" r="0.8" fill="#111"/><circle cx="28.5" cy="2.8" r="0.8" fill="#111"/><circle cx="28.4" cy="0.8" r="0.8" fill="#111"/><circle cx="6.6" cy="8.4" r="0.8" fill="#111"/><circle cx="28.8" cy="16.0" r="0.8" fill="#111"/><circle cx="12.1" cy="28.3" r="0.8" fill="#111"/><circle cx="7.5" cy="14.7" r="0.8" fill="#111"/><circle cx="17.0" cy="24.1" r="0.8" fill="#111"/><circle cx="24.1" cy="20.7" r="0.8" fill="#111"/><circle cx="11.2" cy="10.5" r="0.8" fill="#111"/><circle cx="5.0" cy="27.0" r="0.8" fill="#111"/><circle cx="21.2" cy="23.7" r="0.8" fill="#111"/><circle cx="5.4" cy="14.0" r="0.8" fill="#111"/><circle cx="24.7" cy="18.5" r="0.8" fill="#111"/><circle cx="4.0" cy="14.8" r="0.8" fill="#111"/><circle cx="28.3" cy="7.6" r="0.8" fill="#111"/><circle cx="6.1" cy="9.6" r="0.8" fill="#111"/><circle cx="22.5" cy="27.0" r="0.8" fill="#111"/><circle cx="4.9" cy="5.0" r="0.8" fill="#111"/><circle cx="7.9" cy="10.5" r="0.8" fill="#111"/><circle cx="16.7" cy="5.1" r="0.8" fill="#111"/><circle cx="10.5" cy="6.1" r="0.8" fill="#111"/><circle cx="31.2" cy="23.3" r="0.8" fill="#111"/><circle cx="3.3" cy="30.8" r="0.8" fill="#111"/><circle cx="3.3" cy="12.3" r="0.8" fill="#111"/><circle cx="31.5" cy="25.4" r="0.8" fill="#111"/><circle cx="23.5" cy="13.9" r="0.8" fill="#111"/><circle cx="6.3" cy="20.4" r="0.8" fill="#111"/><circle cx="3.4" cy="6.6" r="0.8" fill="#111"/><circle cx="12.4" cy="1.1" r="0.8" fill="#111"/><circle cx="12.8" cy="25.3" r="0.8" fill="#111"/><circle cx="22.2" cy="16.0" r="0.8" fill="#111"/><circle cx="20.2" cy="14.8" r="0.8" fill="#111"/><circle cx="4.5" cy="19.3" r="0.8" fill="#111"/><circle cx="13.0" cy="23.7" r="0.8" fill="#111"/><circle cx="29.1" cy="13.8" r="0.8" fill="#111"/><circle cx="18.4" cy="24.0" r="0.8" fill="#111"/><circle cx="13.5" cy="7.3" r="0.8" fill="#111"/><circle cx="23.1" cy="28.2" r="0.8" fill="#111"/><circle cx="24.8" cy="22.4" r="0.8" fill="#111"/><circle cx="27.3" cy="21.7" r="0.8" fill="#111"/><circle cx="20.5" cy="14.5" r="0.8" fill="#111"/><circle cx="10.0" cy="20.1" r="0.8" fill="#111"/><circle cx="3.1" cy="13.4" r="0.8" fill="#111"/><circle cx="25.0" cy="22.8" r="0.8" fill="#111"/><circle cx="20.1" cy="8.0" r="0.8" fill="#111"/><circle cx="13.6" cy="14.6" r="0.8" fill="#111"/><circle cx="19.9" cy="13.1" r="0.8" fill="#111"/><circle cx="21.6" cy="29.8" r="0.8" fill="#111"/><circle cx="5.9" cy="20.9" r="0.8" fill="#111"/><circle cx="24.9" cy="12.4" r="0.8" fill="#111"/><circle cx="15.7" cy="31.2" r="0.8" fill="#111"/><circle cx="1.2" cy="17.4" r="0.8" fill="#111"/><circle cx="5.1" cy="25.0" r="0.8" fill="#111"/><circle cx="30.1" cy="16.6" r="0.8" fill="#111"/><circle cx="3.2" cy="18.4" r="0.8" fill="#111"/><circle cx="17.3" cy="23.0" r="0.8" fill="#111"/><circle cx="16.4" cy="20.5" r="0.8" fill="#111"/><circle cx="26.5" cy="16.7" r="0.8" fill="#111"/><circle cx="13.1" cy="30.3" r="0.8" fill="#111"/><circle cx="6.7" cy="21.9" r="0.8" fill="#111"/><circle cx="12.6" cy="24.4" r="0.8" fill="#111"/><circle cx="3.9" cy="31.5" r="0.8" fill="#111"/><circle cx="11.4" cy="1.8" r="0.8" fill="#111"/><circle cx="8.8" cy="12.8" r="0.8" fill="#111"/><circle cx="0.4" cy="13.4" r="0.8" fill="#111"/><circle cx="13.5" cy="22.3" r="0.8" fill="#111"/><circle cx="11.3" cy="8.5" r="0.8" fill="#111"/><circle cx="7.2" cy="23.7" r="0.8" fill="#111"/><circle cx="30.1" cy="16.9" r="0.8" fill="#111"/><circle cx="7.0" cy="25.6" r="0.8" fill="#111"/><circle cx="12.5" cy="6.8" r="0.8" fill="#111"/><circle cx="4.1" cy="24.9" r="0.8" fill="#111"/><circle cx="25.9" cy="20.3" r="0.8" fill="#111"/><circle cx="15.0" cy="18.0" r="0.8" fill="#111"/><circle cx="7.2" cy="30.8" r="0.8" fill="#111"/><circle cx="11.3" cy="20.4" r="0.8" fill="#111"/><circle cx="26.2" cy="26.1" r="0.8" fill="#111"/><circle cx="15.0" cy="9.4" r="0.8" fill="#111"/><circle cx="17.5" cy="4.0" r="0.8" fill="#111"/><circle cx="26.7" cy="11.4" r="0.8" fill="#111"/><circle cx="27.2" cy="8.6" r="0.8" fill="#111"/></pattern><clipPath id="cfront"><path d="M299.0,420.0 L299.0,283.0 L300.0,278.5 L302.5,275.0 L306.5,273.0 L446.0,332.0 L448.0,340.0 L448.0,455.0 L443.6,463.2 L438.8,472.8 L429.2,480.0 L414.8,484.8 L395.6,486.0 L376.4,482.4 L362.0,475.2 L347.6,463.2 L320.0,440.0 Z"/></clipPath></defs>
<rect width="1000" height="718" fill="#f6f7f6"/>
<path d="M983,10 L984,7 L987,5.5 L989,6.5 L988,8 L985,9.5 Z" fill="#999"/><rect x="992" y="7.2" width="8" height="2.6" fill="#aaa"/>
<path d="M293.0,17.5 L252.0,40.5 L249.5,46.0 L250.0,94.0 L253.0,101.0 L483.0,222.5 L489.0,224.5 L528.0,209.0 L528.0,152.0 L525.0,147.5 L293.0,17.5" fill="#f6f7f6" stroke="#111" stroke-width="1.5" stroke-linejoin="round" stroke-linecap="round" />
<path d="M487.5,167.0 L525.0,148.0" fill="none" stroke="#111" stroke-width="1.3" stroke-linejoin="round" stroke-linecap="round" />
<path d="M492.0,170.0 L526.0,152.0" fill="none" stroke="#111" stroke-width="1.2" stroke-linejoin="round" stroke-linecap="round" />
<path d="M491.0,173.0 L527.0,155.0" fill="none" stroke="#111" stroke-width="1.0" stroke-linejoin="round" stroke-linecap="round" />
<path d="M262.0,50.0 L477.0,165.0" fill="none" stroke="#111" stroke-width="1.2" stroke-linejoin="round" stroke-linecap="round" stroke-dasharray="11 7 40 9 30 8"/>
<path d="M487.5,178.0 L487.5,222.0" fill="none" stroke="#111" stroke-width="1.2" stroke-linejoin="round" stroke-linecap="round" stroke-dasharray="12 4"/>
<ellipse cx="487.5" cy="171.5" rx="4.5" ry="4.5" transform="rotate(0 487.5 171.5)" fill="none" stroke="#111" stroke-width="1.3" />
<ellipse cx="296.0" cy="37.5" rx="8.0" ry="4.3" transform="rotate(8 296.0 37.5)" fill="none" stroke="#111" stroke-width="1.3" />
<ellipse cx="303.0" cy="99.5" rx="5.8" ry="8.5" transform="rotate(-15 303.0 99.5)" fill="none" stroke="#111" stroke-width="1.3" />
<ellipse cx="490.5" cy="144.0" rx="7.5" ry="4.3" transform="rotate(8 490.5 144.0)" fill="none" stroke="#111" stroke-width="1.3" />
<ellipse cx="435.0" cy="173.0" rx="5.8" ry="8.5" transform="rotate(-15 435.0 173.0)" fill="none" stroke="#111" stroke-width="1.3" />
<ellipse cx="254.5" cy="44.0" rx="3.0" ry="3.0" transform="rotate(0 254.5 44.0)" fill="none" stroke="#111" stroke-width="1.0" />
<path d="M645.2,181.1 L710.8,144.7 A20,48.5 -29 0 1 757.9,229.6 L692.3,265.9 Z" fill="#f6f7f6" stroke="none"/>
<path d="M645.2,181.1 L710.8,144.7 A20,48.5 -29 0 1 757.9,229.6 L692.3,265.9" fill="none" stroke="#111" stroke-width="1.5" stroke-linejoin="round" stroke-linecap="round" />
<ellipse cx="668.0" cy="226.0" rx="20.0" ry="47.0" transform="rotate(-29 668.0 226.0)" fill="#f6f7f6" stroke="#111" stroke-width="1.5" />
<ellipse cx="669.0" cy="228.0" rx="14.5" ry="41.0" transform="rotate(-29 669.0 228.0)" fill="#f6f7f6" stroke="#111" stroke-width="1.3" />
<path d="M524.5,249.6 L622.5,195.3 A15,46.5 -29 0 1 667.5,276.7 L569.6,331.0 Z" fill="#f6f7f6" stroke="none"/>
<path d="M524.5,249.6 L622.5,195.3 A15,46.5 -29 0 1 667.5,276.7 L569.6,331.0" fill="none" stroke="#111" stroke-width="1.5" stroke-linejoin="round" stroke-linecap="round" />
<path d="M727.9,107.3 C728.1,105.8 727.7,101.0 729.0,98.4 C730.3,95.8 732.7,93.4 735.7,91.7 C738.7,90.0 743.4,88.3 746.9,88.3 C750.4,88.3 754.5,90.0 756.9,91.7 C759.3,93.4 759.8,96.0 761.3,98.4 C762.8,100.8 763.2,102.7 766.0,106.0 C768.8,109.3 773.8,116.5 778.0,118.4 C782.2,120.3 786.9,117.3 791.4,117.3 C795.9,117.3 800.3,117.3 804.8,118.4 C809.3,119.5 814.1,121.6 818.2,124.0 C822.3,126.4 826.7,129.8 829.3,132.9 C831.9,136.1 833.4,139.7 833.8,142.9 C834.2,146.1 833.0,149.7 831.5,151.9 C830.0,154.1 827.0,155.2 824.8,156.3 C822.6,157.4 819.7,157.0 818.2,158.5 C816.7,160.0 816.1,162.6 815.9,165.2 C815.7,167.8 815.9,171.5 817.0,174.1 C818.1,176.7 820.9,178.6 822.6,180.8 C824.3,183.0 825.1,184.5 827.0,187.5 C828.9,190.5 832.3,194.9 833.8,198.6 C835.3,202.3 836.4,206.5 836.0,209.8 C835.6,213.2 833.7,216.7 831.5,218.7 C829.3,220.7 825.6,221.6 822.6,222.0 C819.6,222.4 816.3,221.5 813.7,220.9 C811.1,220.3 810.0,217.9 807.0,218.7 C804.0,219.4 800.4,223.5 795.9,225.4 C791.4,227.3 785.1,228.2 780.0,230.0 C774.9,231.8 769.5,234.3 765.0,236.0 C760.5,237.7 755.3,239.9 753.0,240.0 C750.7,240.1 751.2,239.3 751.3,236.5 C751.4,233.7 753.5,227.6 753.5,223.2 C753.5,218.8 752.4,214.6 751.3,209.8 C750.2,205.0 748.4,198.3 746.9,194.2 C745.4,190.1 743.9,188.3 742.4,185.3 C740.9,182.3 740.1,179.8 737.9,176.4 C735.7,173.1 731.6,168.6 729.0,165.2 C726.4,161.8 723.8,159.4 722.0,156.0 C720.2,152.6 718.0,149.7 718.0,145.0 C718.0,140.3 720.4,134.3 722.0,128.0 C723.6,121.7 726.9,110.8 727.9,107.3 C728.9,103.8 727.7,108.8 727.9,107.3 Z" fill="#f6f7f6" stroke="#111" stroke-width="1.5" stroke-linejoin="round" stroke-linecap="round" />
<path d="M679.0,152.0 L684.0,142.0 L698.5,132.5 L719.5,125.5 L722.0,152.0 L705.0,157.0 L688.0,159.0 Z" fill="#f6f7f6" stroke="#111" stroke-width="0" stroke-linejoin="round" stroke-linecap="round" stroke="none"/>
<path d="M679.0,153.0 C679.8,151.2 680.8,145.4 684.0,142.0 C687.2,138.6 692.6,135.2 698.5,132.5 C704.4,129.8 716.0,126.7 719.5,125.5" fill="none" stroke="#111" stroke-width="1.3" stroke-linejoin="round" stroke-linecap="round" />
<path d="M688.0,158.5 C690.8,158.1 699.8,157.1 705.0,156.0 C710.2,154.9 717.1,152.7 719.5,152.0" fill="none" stroke="#111" stroke-width="1.3" stroke-linejoin="round" stroke-linecap="round" />
<path d="M686.0,150.0 C688.3,148.8 695.0,145.0 700.0,143.0 C705.0,141.0 713.3,138.8 716.0,138.0" fill="none" stroke="#111" stroke-width="1.0" stroke-linejoin="round" stroke-linecap="round" />
<ellipse cx="736.8" cy="102.8" rx="5.5" ry="4.5" transform="rotate(-10 736.8 102.8)" fill="none" stroke="#111" stroke-width="1.3" />
<ellipse cx="813.7" cy="145.2" rx="5.2" ry="8.5" transform="rotate(-5 813.7 145.2)" fill="none" stroke="#111" stroke-width="1.3" />
<path d="M801.0,134.0 L802.5,150.0" fill="none" stroke="#111" stroke-width="1.2" stroke-linejoin="round" stroke-linecap="round" />
<path d="M815.0,210.0 C815.7,209.3 817.7,205.8 819.0,206.0 C820.3,206.2 822.7,209.2 823.0,211.0 C823.3,212.8 822.3,215.8 821.0,217.0 C819.7,218.2 816.0,217.8 815.0,218.0" fill="none" stroke="#111" stroke-width="1.2" stroke-linejoin="round" stroke-linecap="round" />
<path d="M730.0,172.0 C734.2,172.7 748.7,175.5 755.0,176.0 C761.3,176.5 765.8,175.2 768.0,175.0" fill="none" stroke="#111" stroke-width="1.2" stroke-linejoin="round" stroke-linecap="round" />
<path d="M742.0,185.0 C743.8,185.2 747.2,186.8 753.0,186.0 C758.8,185.2 773.0,181.0 777.0,180.0" fill="none" stroke="#111" stroke-width="1.2" stroke-linejoin="round" stroke-linecap="round" />
<path d="M758.0,199.0 C759.7,197.5 764.3,193.5 768.0,190.0 C771.7,186.5 778.0,180.0 780.0,178.0" fill="none" stroke="#111" stroke-width="1.1" stroke-linejoin="round" stroke-linecap="round" />
<path d="M767.0,157.0 C769.2,156.2 775.3,152.7 780.0,152.0 C784.7,151.3 790.0,152.3 795.0,153.0 C800.0,153.7 806.2,155.0 810.0,156.0 C813.8,157.0 815.8,159.0 818.0,159.0 C820.2,159.0 822.2,156.5 823.0,156.0" fill="none" stroke="#111" stroke-width="1.5" stroke-linejoin="round" stroke-linecap="round" />
<path d="M766.0,167.0 C768.3,166.6 775.2,164.5 780.0,164.5 C784.8,164.5 790.0,165.4 795.0,167.0 C800.0,168.6 807.5,172.8 810.0,174.0" fill="none" stroke="#111" stroke-width="1.3" stroke-linejoin="round" stroke-linecap="round" />
<path d="M732.0,148.0 L790.0,132.0" fill="none" stroke="#111" stroke-width="1.0" stroke-linejoin="round" stroke-linecap="round" stroke-dasharray="5 4"/>
<path d="M778.0,120.0 C780.0,121.0 786.3,123.7 790.0,126.0 C793.7,128.3 798.3,132.7 800.0,134.0" fill="none" stroke="#111" stroke-width="1.0" stroke-linejoin="round" stroke-linecap="round" />
<path d="M726.8,158.5 L766.9,158.5 L765.0,167.5 L728.0,167.5 Z" fill="#f6f7f6" stroke="#111" stroke-width="1.3" stroke-linejoin="round" stroke-linecap="round" />
<path d="M728.0,159.0 L729.2,167.0" fill="none" stroke="#111" stroke-width="1.3" stroke-linejoin="round" stroke-linecap="round" />
<path d="M730.3,159.0 L731.5,167.0" fill="none" stroke="#111" stroke-width="1.3" stroke-linejoin="round" stroke-linecap="round" />
<path d="M732.6,159.0 L733.8,167.0" fill="none" stroke="#111" stroke-width="1.3" stroke-linejoin="round" stroke-linecap="round" />
<path d="M734.9,159.0 L736.1,167.0" fill="none" stroke="#111" stroke-width="1.3" stroke-linejoin="round" stroke-linecap="round" />
<path d="M737.2,159.0 L738.4,167.0" fill="none" stroke="#111" stroke-width="1.3" stroke-linejoin="round" stroke-linecap="round" />
<path d="M739.5,159.0 L740.7,167.0" fill="none" stroke="#111" stroke-width="1.3" stroke-linejoin="round" stroke-linecap="round" />
<path d="M741.8,159.0 L743.0,167.0" fill="none" stroke="#111" stroke-width="1.3" stroke-linejoin="round" stroke-linecap="round" />
<path d="M744.1,159.0 L745.3,167.0" fill="none" stroke="#111" stroke-width="1.3" stroke-linejoin="round" stroke-linecap="round" />
<path d="M746.4,159.0 L747.6,167.0" fill="none" stroke="#111" stroke-width="1.3" stroke-linejoin="round" stroke-linecap="round" />
<path d="M748.7,159.0 L749.9,167.0" fill="none" stroke="#111" stroke-width="1.3" stroke-linejoin="round" stroke-linecap="round" />
<path d="M751.0,159.0 L752.2,167.0" fill="none" stroke="#111" stroke-width="1.3" stroke-linejoin="round" stroke-linecap="round" />
<path d="M753.3,159.0 L754.5,167.0" fill="none" stroke="#111" stroke-width="1.3" stroke-linejoin="round" stroke-linecap="round" />
<path d="M755.6,159.0 L756.8,167.0" fill="none" stroke="#111" stroke-width="1.3" stroke-linejoin="round" stroke-linecap="round" />
<path d="M757.9,159.0 L759.1,167.0" fill="none" stroke="#111" stroke-width="1.3" stroke-linejoin="round" stroke-linecap="round" />
<path d="M760.2,159.0 L761.4,167.0" fill="none" stroke="#111" stroke-width="1.3" stroke-linejoin="round" stroke-linecap="round" />
<path d="M762.5,159.0 L763.7,167.0" fill="none" stroke="#111" stroke-width="1.3" stroke-linejoin="round" stroke-linecap="round" />
<path d="M764.8,159.0 L766.0,167.0" fill="none" stroke="#111" stroke-width="1.3" stroke-linejoin="round" stroke-linecap="round" />
<path d="M717.9,136.3 C717.4,133.7 717.5,128.4 719.0,125.1 C720.5,121.8 723.3,118.6 726.8,116.2 C730.3,113.8 735.4,112.1 740.2,110.6 C745.0,109.1 751.0,108.0 755.8,107.3 C760.6,106.6 765.6,106.0 769.1,106.2 C772.6,106.4 775.4,106.4 776.9,108.4 C778.4,110.4 778.4,114.9 778.0,118.4 C777.6,121.9 776.9,126.4 774.7,129.6 C772.5,132.8 768.6,135.4 764.7,137.4 C760.8,139.4 756.1,140.9 751.3,141.8 C746.5,142.7 740.5,143.1 735.7,142.9 C730.9,142.7 725.3,141.8 722.3,140.7 C719.3,139.6 718.4,138.9 717.9,136.3 Z" fill="#f6f7f6" stroke="#111" stroke-width="1.5" stroke-linejoin="round" stroke-linecap="round" />
<path d="M717.9,142.9 C718.3,144.0 717.1,148.1 720.1,149.6 C723.1,151.1 729.4,151.7 735.7,151.9 C742.0,152.1 751.7,151.4 758.0,150.7 C764.3,149.9 770.4,149.2 773.6,147.4 C776.8,145.6 776.4,141.2 777.0,140.0" fill="none" stroke="#111" stroke-width="1.3" stroke-linejoin="round" stroke-linecap="round" />
<path d="M729.0,125.1 L766.9,102.8" fill="none" stroke="#111" stroke-width="1.3" stroke-linejoin="round" stroke-linecap="round" />
<path d="M735.7,134.0 L773.6,114.0" fill="none" stroke="#111" stroke-width="1.3" stroke-linejoin="round" stroke-linecap="round" />
<path d="M719.6,131.8 C720.1,123.4 727.4,122.3 730.7,126.8" stroke="#111" stroke-width="2.2" fill="none"/>
<path d="M720.1,130.5 L722.9,127.8 L728.5,127.8 L731.3,130.5 L731.3,133.8 L728.5,136.5 L722.9,136.5 L720.1,133.8 Z" fill="#f6f7f6" stroke="#111" stroke-width="1.5" stroke-linejoin="round" stroke-linecap="round" />
<path d="M731.3,130.5 L728.5,133.1 L722.9,133.1 L720.1,130.5 L722.9,127.8 L728.5,127.8 Z" fill="none" stroke="#111" stroke-width="1.2" stroke-linejoin="round" stroke-linecap="round" />
<path d="M731.3,130.5 L731.3,133.8" fill="none" stroke="#111" stroke-width="1.1" stroke-linejoin="round" stroke-linecap="round" />
<path d="M728.5,133.1 L728.5,136.5" fill="none" stroke="#111" stroke-width="1.1" stroke-linejoin="round" stroke-linecap="round" />
<path d="M722.9,133.1 L722.9,136.5" fill="none" stroke="#111" stroke-width="1.1" stroke-linejoin="round" stroke-linecap="round" />
<path d="M720.1,130.5 L720.1,133.8" fill="none" stroke="#111" stroke-width="1.1" stroke-linejoin="round" stroke-linecap="round" />
<path d="M723.7,130.1 L727.7,130.8" fill="none" stroke="#111" stroke-width="0.9" stroke-linejoin="round" stroke-linecap="round" />
<path d="M761.9,108.4 C762.4,100.0 769.7,98.9 773.0,103.4" stroke="#111" stroke-width="2.2" fill="none"/>
<path d="M762.4,107.1 L765.2,104.4 L770.8,104.4 L773.6,107.1 L773.6,110.4 L770.8,113.1 L765.2,113.1 L762.4,110.4 Z" fill="#f6f7f6" stroke="#111" stroke-width="1.5" stroke-linejoin="round" stroke-linecap="round" />
<path d="M773.6,107.1 L770.8,109.7 L765.2,109.7 L762.4,107.1 L765.2,104.4 L770.8,104.4 Z" fill="none" stroke="#111" stroke-width="1.2" stroke-linejoin="round" stroke-linecap="round" />
<path d="M773.6,107.1 L773.6,110.4" fill="none" stroke="#111" stroke-width="1.1" stroke-linejoin="round" stroke-linecap="round" />
<path d="M770.8,109.7 L770.8,113.1" fill="none" stroke="#111" stroke-width="1.1" stroke-linejoin="round" stroke-linecap="round" />
<path d="M765.2,109.7 L765.2,113.1" fill="none" stroke="#111" stroke-width="1.1" stroke-linejoin="round" stroke-linecap="round" />
<path d="M762.4,107.1 L762.4,110.4" fill="none" stroke="#111" stroke-width="1.1" stroke-linejoin="round" stroke-linecap="round" />
<path d="M766.0,106.7 L770.0,107.4" fill="none" stroke="#111" stroke-width="0.9" stroke-linejoin="round" stroke-linecap="round" />
<path d="M764.7,203.1 C765.1,199.0 766.9,193.4 769.1,189.7 C771.3,186.0 774.3,183.0 778.0,180.8 C781.7,178.6 786.6,177.1 791.4,176.4 C796.2,175.7 802.5,175.7 807.0,176.4 C811.5,177.1 815.2,179.0 818.2,180.8 C821.2,182.7 823.3,184.9 824.8,187.5 C826.3,190.1 827.4,193.1 827.0,196.4 C826.6,199.8 825.2,203.9 822.6,207.6 C820.0,211.3 816.0,215.7 811.5,218.7 C807.0,221.7 801.1,223.9 795.9,225.4 C790.7,226.9 784.4,228.0 780.3,227.6 C776.2,227.2 773.6,225.4 771.4,223.2 C769.2,221.0 768.0,217.5 766.9,214.2 C765.8,210.8 764.3,207.2 764.7,203.1 Z" fill="#f6f7f6" stroke="#111" stroke-width="1.5" stroke-linejoin="round" stroke-linecap="round" />
<path d="M775.8,206.4 L818.2,183.0" fill="none" stroke="#111" stroke-width="1.3" stroke-linejoin="round" stroke-linecap="round" />
<path d="M782.5,218.7 L824.8,196.4" fill="none" stroke="#111" stroke-width="1.3" stroke-linejoin="round" stroke-linecap="round" />
<path d="M773.1,213.1 C773.6,204.7 780.9,203.6 784.2,208.1" stroke="#111" stroke-width="2.2" fill="none"/>
<path d="M773.6,211.8 L776.4,209.1 L782.0,209.1 L784.8,211.8 L784.8,215.1 L782.0,217.8 L776.4,217.8 L773.6,215.1 Z" fill="#f6f7f6" stroke="#111" stroke-width="1.5" stroke-linejoin="round" stroke-linecap="round" />
<path d="M784.8,211.8 L782.0,214.4 L776.4,214.4 L773.6,211.8 L776.4,209.1 L782.0,209.1 Z" fill="none" stroke="#111" stroke-width="1.2" stroke-linejoin="round" stroke-linecap="round" />
<path d="M784.8,211.8 L784.8,215.1" fill="none" stroke="#111" stroke-width="1.1" stroke-linejoin="round" stroke-linecap="round" />
<path d="M782.0,214.4 L782.0,217.8" fill="none" stroke="#111" stroke-width="1.1" stroke-linejoin="round" stroke-linecap="round" />
<path d="M776.4,214.4 L776.4,217.8" fill="none" stroke="#111" stroke-width="1.1" stroke-linejoin="round" stroke-linecap="round" />
<path d="M773.6,211.8 L773.6,215.1" fill="none" stroke="#111" stroke-width="1.1" stroke-linejoin="round" stroke-linecap="round" />
<path d="M777.2,211.4 L781.2,212.1" fill="none" stroke="#111" stroke-width="0.9" stroke-linejoin="round" stroke-linecap="round" />
<path d="M814.3,188.6 C814.8,180.2 822.1,179.1 825.4,183.6" stroke="#111" stroke-width="2.2" fill="none"/>
<path d="M814.8,187.3 L817.6,184.6 L823.2,184.6 L826.0,187.3 L826.0,190.6 L823.2,193.3 L817.6,193.3 L814.8,190.6 Z" fill="#f6f7f6" stroke="#111" stroke-width="1.5" stroke-linejoin="round" stroke-linecap="round" />
<path d="M826.0,187.3 L823.2,189.9 L817.6,189.9 L814.8,187.3 L817.6,184.6 L823.2,184.6 Z" fill="none" stroke="#111" stroke-width="1.2" stroke-linejoin="round" stroke-linecap="round" />
<path d="M826.0,187.3 L826.0,190.6" fill="none" stroke="#111" stroke-width="1.1" stroke-linejoin="round" stroke-linecap="round" />
<path d="M823.2,189.9 L823.2,193.3" fill="none" stroke="#111" stroke-width="1.1" stroke-linejoin="round" stroke-linecap="round" />
<path d="M817.6,189.9 L817.6,193.3" fill="none" stroke="#111" stroke-width="1.1" stroke-linejoin="round" stroke-linecap="round" />
<path d="M814.8,187.3 L814.8,190.6" fill="none" stroke="#111" stroke-width="1.1" stroke-linejoin="round" stroke-linecap="round" />
<path d="M818.4,186.9 L822.4,187.6" fill="none" stroke="#111" stroke-width="0.9" stroke-linejoin="round" stroke-linecap="round" />
<path d="M445.9,281.8 C446.9,280.8 448.4,277.9 451.7,276.0 C454.9,274.1 461.2,271.8 465.4,270.1 C469.6,268.4 475.1,266.7 477.0,266.0" fill="none" stroke="#111" stroke-width="1.2" stroke-linejoin="round" stroke-linecap="round" />
<path d="M448.0,290.0 C450.0,288.8 455.3,284.7 460.0,283.0 C464.7,281.3 473.3,280.5 476.0,280.0" fill="none" stroke="#111" stroke-width="1.0" stroke-linejoin="round" stroke-linecap="round" />
<path d="M537.5,256.5 C539.5,255.6 544.7,261.4 549.2,264.3 C553.8,267.2 560.6,270.8 564.8,274.0 C569.0,277.2 572.3,279.9 574.6,283.8 C576.9,287.7 577.7,292.5 578.5,297.4 C579.3,302.3 579.8,308.8 579.5,313.0 C579.2,317.2 579.8,321.3 576.5,322.8 C573.2,324.3 566.1,322.1 560.0,322.0 C553.9,321.9 545.8,322.0 540.0,322.0 C534.2,322.0 529.7,322.7 525.0,322.0 C520.3,321.3 515.3,321.7 512.0,318.0 C508.7,314.3 507.0,303.7 505.0,300.0 C503.0,296.3 497.5,297.3 500.0,296.0 C502.5,294.7 515.0,293.8 520.0,292.0 C525.0,290.2 527.1,288.7 530.0,285.0 C532.9,281.3 536.2,274.8 537.5,270.0 C538.8,265.2 535.5,257.4 537.5,256.5 Z" fill="#f6f7f6" stroke="#111" stroke-width="1.5" stroke-linejoin="round" stroke-linecap="round" />
<path d="M540.0,263.8 C544.2,266.3 560.6,275.0 565.2,278.8 C569.8,282.6 567.7,283.7 567.7,286.4 C567.7,289.1 566.9,292.0 565.2,295.1 C563.5,298.2 559.9,302.9 557.7,305.2 C555.5,307.5 553.0,308.4 552.0,309.0" fill="none" stroke="#111" stroke-width="1.3" stroke-linejoin="round" stroke-linecap="round" />
<path d="M540.0,270.0 C543.0,272.3 554.3,280.7 557.7,283.8 C561.1,286.9 560.4,286.8 560.2,288.9 C560.0,291.0 557.9,293.9 556.4,296.4 C554.9,298.9 552.2,302.6 551.4,303.9" fill="none" stroke="#111" stroke-width="1.2" stroke-linejoin="round" stroke-linecap="round" />
<path d="M567.7,292.6 C566.9,294.1 564.0,298.5 562.7,301.4 C561.5,304.3 560.6,307.1 560.2,310.2 C559.8,313.3 560.2,318.5 560.2,320.2" fill="none" stroke="#111" stroke-width="1.1" stroke-linejoin="round" stroke-linecap="round" />
<path d="M490.0,310.2 C493.3,308.5 503.1,303.1 510.0,300.0 C516.9,296.9 527.8,292.8 531.4,291.4" fill="none" stroke="#111" stroke-width="1.1" stroke-linejoin="round" stroke-linecap="round" />
<path d="M508.8,300.0 C509.6,297.7 511.8,295.2 515.0,294.0 C518.2,292.8 525.3,291.9 528.0,292.6 C530.7,293.3 531.4,295.8 531.4,298.0 C531.4,300.2 530.2,304.0 528.0,306.0 C525.8,308.0 521.0,309.9 518.0,310.2 C515.0,310.5 511.5,309.7 510.0,308.0 C508.5,306.3 508.0,302.3 508.8,300.0 Z" fill="#f6f7f6" stroke="#111" stroke-width="1.3" stroke-linejoin="round" stroke-linecap="round" />
<path d="M511.0,296.0 L512.5,308.0" fill="none" stroke="#111" stroke-width="1.2" stroke-linejoin="round" stroke-linecap="round" />
<path d="M514.0,296.0 L515.5,308.0" fill="none" stroke="#111" stroke-width="1.2" stroke-linejoin="round" stroke-linecap="round" />
<path d="M517.0,296.0 L518.5,308.0" fill="none" stroke="#111" stroke-width="1.2" stroke-linejoin="round" stroke-linecap="round" />
<path d="M520.0,296.0 L521.5,308.0" fill="none" stroke="#111" stroke-width="1.2" stroke-linejoin="round" stroke-linecap="round" />
<path d="M523.0,296.0 L524.5,308.0" fill="none" stroke="#111" stroke-width="1.2" stroke-linejoin="round" stroke-linecap="round" />
<path d="M526.0,296.0 L527.5,308.0" fill="none" stroke="#111" stroke-width="1.2" stroke-linejoin="round" stroke-linecap="round" />
<path d="M515.0,312.0 C515.8,313.0 518.5,316.3 520.0,318.0 C521.5,319.7 523.3,321.3 524.0,322.0" fill="none" stroke="#111" stroke-width="1.0" stroke-linejoin="round" stroke-linecap="round" />
<path d="M476.1,274.0 C476.1,270.8 475.5,268.8 477.0,266.2 C478.5,263.6 481.3,260.5 484.9,258.4 C488.5,256.3 493.6,254.8 498.5,253.5 C503.4,252.2 509.6,251.4 514.1,250.6 C518.6,249.8 522.2,248.5 525.8,248.7 C529.4,248.9 533.6,249.7 535.6,251.6 C537.6,253.5 537.5,256.7 537.5,260.4 C537.5,264.1 537.2,270.4 535.6,274.0 C534.0,277.6 531.4,279.7 527.8,281.8 C524.2,283.9 519.0,285.6 514.1,286.7 C509.2,287.8 503.4,288.3 498.5,288.6 C493.6,288.9 488.5,289.1 484.9,288.6 C481.3,288.1 478.5,288.1 477.0,285.7 C475.5,283.3 476.1,277.2 476.1,274.0 Z" fill="#f6f7f6" stroke="#111" stroke-width="1.5" stroke-linejoin="round" stroke-linecap="round" />
<path d="M476.1,291.6 C479.8,292.2 490.9,295.2 498.5,295.5 C506.1,295.8 516.4,294.8 521.9,293.5 C527.4,292.2 530.1,288.7 531.7,287.7" fill="none" stroke="#111" stroke-width="1.3" stroke-linejoin="round" stroke-linecap="round" />
<path d="M481.0,270.1 L522.0,247.7" fill="none" stroke="#111" stroke-width="1.2" stroke-linejoin="round" stroke-linecap="round" />
<path d="M488.8,279.9 L531.7,256.5" fill="none" stroke="#111" stroke-width="1.2" stroke-linejoin="round" stroke-linecap="round" />
<path d="M477.8,276.0 C478.3,267.6 485.6,266.5 488.9,271.0" stroke="#111" stroke-width="2.2" fill="none"/>
<path d="M478.3,274.7 L481.1,272.0 L486.7,272.0 L489.5,274.7 L489.5,278.0 L486.7,280.7 L481.1,280.7 L478.3,278.0 Z" fill="#f6f7f6" stroke="#111" stroke-width="1.5" stroke-linejoin="round" stroke-linecap="round" />
<path d="M489.5,274.7 L486.7,277.3 L481.1,277.3 L478.3,274.7 L481.1,272.0 L486.7,272.0 Z" fill="none" stroke="#111" stroke-width="1.2" stroke-linejoin="round" stroke-linecap="round" />
<path d="M489.5,274.7 L489.5,278.0" fill="none" stroke="#111" stroke-width="1.1" stroke-linejoin="round" stroke-linecap="round" />
<path d="M486.7,277.3 L486.7,280.7" fill="none" stroke="#111" stroke-width="1.1" stroke-linejoin="round" stroke-linecap="round" />
<path d="M481.1,277.3 L481.1,280.7" fill="none" stroke="#111" stroke-width="1.1" stroke-linejoin="round" stroke-linecap="round" />
<path d="M478.3,274.7 L478.3,278.0" fill="none" stroke="#111" stroke-width="1.1" stroke-linejoin="round" stroke-linecap="round" />
<path d="M481.9,274.3 L485.9,275.0" fill="none" stroke="#111" stroke-width="0.9" stroke-linejoin="round" stroke-linecap="round" />
<path d="M518.7,251.6 C519.2,243.2 526.5,242.1 529.8,246.6" stroke="#111" stroke-width="2.2" fill="none"/>
<path d="M519.2,250.3 L522.0,247.6 L527.6,247.6 L530.4,250.3 L530.4,253.6 L527.6,256.3 L522.0,256.3 L519.2,253.6 Z" fill="#f6f7f6" stroke="#111" stroke-width="1.5" stroke-linejoin="round" stroke-linecap="round" />
<path d="M530.4,250.3 L527.6,252.9 L522.0,252.9 L519.2,250.3 L522.0,247.6 L527.6,247.6 Z" fill="none" stroke="#111" stroke-width="1.2" stroke-linejoin="round" stroke-linecap="round" />
<path d="M530.4,250.3 L530.4,253.6" fill="none" stroke="#111" stroke-width="1.1" stroke-linejoin="round" stroke-linecap="round" />
<path d="M527.6,252.9 L527.6,256.3" fill="none" stroke="#111" stroke-width="1.1" stroke-linejoin="round" stroke-linecap="round" />
<path d="M522.0,252.9 L522.0,256.3" fill="none" stroke="#111" stroke-width="1.1" stroke-linejoin="round" stroke-linecap="round" />
<path d="M519.2,250.3 L519.2,253.6" fill="none" stroke="#111" stroke-width="1.1" stroke-linejoin="round" stroke-linecap="round" />
<path d="M522.8,249.9 L526.8,250.6" fill="none" stroke="#111" stroke-width="0.9" stroke-linejoin="round" stroke-linecap="round" />
<path d="M521.9,344.2 C522.5,340.3 523.5,334.0 525.8,330.6 C528.1,327.2 531.7,325.5 535.6,323.7 C539.5,321.9 544.3,320.3 549.2,319.8 C554.1,319.3 560.2,319.8 564.8,320.8 C569.3,321.8 573.6,323.8 576.5,325.7 C579.4,327.6 581.2,329.7 582.4,332.5 C583.5,335.3 584.4,339.1 583.4,342.3 C582.4,345.6 579.6,349.1 576.5,352.0 C573.4,354.9 569.3,357.5 564.8,359.8 C560.2,362.1 554.1,364.6 549.2,365.7 C544.3,366.8 539.5,367.3 535.6,366.7 C531.7,366.1 528.1,363.9 525.8,361.8 C523.5,359.7 522.5,356.9 521.9,354.0 C521.2,351.1 521.2,348.1 521.9,344.2 Z" fill="#f6f7f6" stroke="#111" stroke-width="1.5" stroke-linejoin="round" stroke-linecap="round" />
<path d="M535.6,352.0 L576.5,330.6" fill="none" stroke="#111" stroke-width="1.2" stroke-linejoin="round" stroke-linecap="round" />
<path d="M537.5,361.8 L580.4,341.3" fill="none" stroke="#111" stroke-width="1.2" stroke-linejoin="round" stroke-linecap="round" />
<path d="M529.5,356.9 C530.0,348.5 537.3,347.4 540.6,351.9" stroke="#111" stroke-width="2.2" fill="none"/>
<path d="M530.0,355.6 L532.8,352.9 L538.4,352.9 L541.2,355.6 L541.2,358.9 L538.4,361.6 L532.8,361.6 L530.0,358.9 Z" fill="#f6f7f6" stroke="#111" stroke-width="1.5" stroke-linejoin="round" stroke-linecap="round" />
<path d="M541.2,355.6 L538.4,358.2 L532.8,358.2 L530.0,355.6 L532.8,352.9 L538.4,352.9 Z" fill="none" stroke="#111" stroke-width="1.2" stroke-linejoin="round" stroke-linecap="round" />
<path d="M541.2,355.6 L541.2,358.9" fill="none" stroke="#111" stroke-width="1.1" stroke-linejoin="round" stroke-linecap="round" />
<path d="M538.4,358.2 L538.4,361.6" fill="none" stroke="#111" stroke-width="1.1" stroke-linejoin="round" stroke-linecap="round" />
<path d="M532.8,358.2 L532.8,361.6" fill="none" stroke="#111" stroke-width="1.1" stroke-linejoin="round" stroke-linecap="round" />
<path d="M530.0,355.6 L530.0,358.9" fill="none" stroke="#111" stroke-width="1.1" stroke-linejoin="round" stroke-linecap="round" />
<path d="M533.6,355.2 L537.6,355.9" fill="none" stroke="#111" stroke-width="0.9" stroke-linejoin="round" stroke-linecap="round" />
<path d="M571.4,336.4 C571.9,328.0 579.2,326.9 582.5,331.4" stroke="#111" stroke-width="2.2" fill="none"/>
<path d="M571.9,335.1 L574.7,332.4 L580.3,332.4 L583.1,335.1 L583.1,338.4 L580.3,341.1 L574.7,341.1 L571.9,338.4 Z" fill="#f6f7f6" stroke="#111" stroke-width="1.5" stroke-linejoin="round" stroke-linecap="round" />
<path d="M583.1,335.1 L580.3,337.7 L574.7,337.7 L571.9,335.1 L574.7,332.4 L580.3,332.4 Z" fill="none" stroke="#111" stroke-width="1.2" stroke-linejoin="round" stroke-linecap="round" />
<path d="M583.1,335.1 L583.1,338.4" fill="none" stroke="#111" stroke-width="1.1" stroke-linejoin="round" stroke-linecap="round" />
<path d="M580.3,337.7 L580.3,341.1" fill="none" stroke="#111" stroke-width="1.1" stroke-linejoin="round" stroke-linecap="round" />
<path d="M574.7,337.7 L574.7,341.1" fill="none" stroke="#111" stroke-width="1.1" stroke-linejoin="round" stroke-linecap="round" />
<path d="M571.9,335.1 L571.9,338.4" fill="none" stroke="#111" stroke-width="1.1" stroke-linejoin="round" stroke-linecap="round" />
<path d="M575.5,334.7 L579.5,335.4" fill="none" stroke="#111" stroke-width="0.9" stroke-linejoin="round" stroke-linecap="round" />
<path d="M294.6,210.0 L329.8,226.0 L333.0,227.5 L482.6,302.7 L484.0,305.0 L520.4,331.4 L521.0,334.5 L517.6,337.5 L496.6,347.2 L457.6,326.7 L451.7,324.7 L447.8,328.6 L443.9,336.4 L304.0,266.0 L302.0,262.0 L303.0,246.0 L300.0,243.0 L271.0,229.0 L268.2,224.5 L272.0,220.0 L294.6,210.0 Z" fill="#f6f7f6" stroke="#111" stroke-width="1.5" stroke-linejoin="round" stroke-linecap="round" />
<path d="M271.0,229.0 L300.0,243.0" fill="none" stroke="#111" stroke-width="1.2" stroke-linejoin="round" stroke-linecap="round" />
<path d="M306.0,258.0 L442.0,328.0" fill="none" stroke="#111" stroke-width="1.2" stroke-linejoin="round" stroke-linecap="round" stroke-dasharray="16 5 60 6 40 7"/>
<ellipse cx="295.5" cy="224.0" rx="8.0" ry="4.3" transform="rotate(-24 295.5 224.0)" fill="none" stroke="#111" stroke-width="1.3" />
<ellipse cx="489.7" cy="328.2" rx="8.8" ry="3.9" transform="rotate(-22 489.7 328.2)" fill="none" stroke="#111" stroke-width="1.3" />
<path d="M487.6,344.0 C490.3,342.0 497.9,346.5 503.0,346.0 C508.1,345.5 515.7,340.2 518.4,341.2 C521.1,342.2 519.0,347.6 519.0,352.0 C519.0,356.4 519.9,364.6 518.4,367.8 C516.9,371.0 513.1,370.3 510.0,371.0 C506.9,371.7 503.5,372.2 500.0,372.0 C496.5,371.8 491.2,372.3 489.0,370.0 C486.8,367.7 487.2,362.3 487.0,358.0 C486.8,353.7 484.9,346.0 487.6,344.0 Z" fill="#f6f7f6" stroke="#111" stroke-width="1.4" stroke-linejoin="round" stroke-linecap="round" />
<path d="M488.5,350.0 C490.9,350.4 498.0,352.8 503.0,352.5 C508.0,352.2 515.9,348.8 518.5,348.0" fill="none" stroke="#111" stroke-width="1.1" stroke-linejoin="round" stroke-linecap="round" />
<path d="M489.0,355.2 C491.3,354.1 498.1,357.8 503.0,357.5 C507.9,357.2 515.8,352.8 518.4,353.5 C521.0,354.2 521.0,359.9 518.4,362.0 C515.8,364.1 507.9,365.7 503.0,366.0 C498.1,366.3 491.3,365.8 489.0,364.0 C486.7,362.2 486.7,356.3 489.0,355.2 Z" fill="#2a2a2a" stroke="#111" stroke-width="1.1"/>
<circle cx="492" cy="359" r="0.7" fill="#f6f7f6"/>
<circle cx="497" cy="361" r="0.7" fill="#f6f7f6"/>
<circle cx="502" cy="360" r="0.7" fill="#f6f7f6"/>
<circle cx="507" cy="362" r="0.7" fill="#f6f7f6"/>
<circle cx="512" cy="358" r="0.7" fill="#f6f7f6"/>
<circle cx="515" cy="360" r="0.7" fill="#f6f7f6"/>
<circle cx="495" cy="357.5" r="0.7" fill="#f6f7f6"/>
<circle cx="509" cy="359.5" r="0.7" fill="#f6f7f6"/>
<path d="M295.0,296.0 L260.0,315.0 L264.0,322.0 L275.0,335.0 L281.0,350.0 L285.0,357.5 L288.0,370.0 L290.0,380.0 L299.0,386.0 L299.0,296.0 Z" fill="#f6f7f6" stroke="#111" stroke-width="1.5" stroke-linejoin="round" stroke-linecap="round" />
<path d="M447.0,334.0 L455.0,328.0 L470.0,336.0 L473.0,345.0 L473.0,400.0 L462.0,425.0 L448.0,438.0 Z" fill="url(#st3)" stroke="#111" stroke-width="0" stroke-linejoin="round" stroke-linecap="round" stroke="none"/>
<path d="M447.0,334.0 L455.0,328.0 L470.0,336.0 L473.0,345.0 L473.0,400.0 L462.0,425.0 L448.0,438.0 Z" fill="none" stroke="#111" stroke-width="1.5" stroke-linejoin="round" stroke-linecap="round" />
<path d="M472.7,345.0 L487.7,352.0 L488.0,386.0 L473.0,392.0 Z" fill="#f6f7f6" stroke="#111" stroke-width="1.2" stroke-linejoin="round" stroke-linecap="round" />
<path d="M473.0,348.0 L487.5,350.0" fill="none" stroke="#111" stroke-width="1.0" stroke-linejoin="round" stroke-linecap="round" />
<path d="M473.0,352.0 L487.5,354.0" fill="none" stroke="#111" stroke-width="1.0" stroke-linejoin="round" stroke-linecap="round" />
<path d="M473.0,356.0 L487.5,358.0" fill="none" stroke="#111" stroke-width="1.0" stroke-linejoin="round" stroke-linecap="round" />
<path d="M473.0,360.0 L487.5,362.0" fill="none" stroke="#111" stroke-width="1.0" stroke-linejoin="round" stroke-linecap="round" />
<path d="M473.0,364.0 L487.5,366.0" fill="none" stroke="#111" stroke-width="1.0" stroke-linejoin="round" stroke-linecap="round" />
<path d="M473.0,368.0 L487.5,370.0" fill="none" stroke="#111" stroke-width="1.0" stroke-linejoin="round" stroke-linecap="round" />
<path d="M473.0,372.0 L487.5,374.0" fill="none" stroke="#111" stroke-width="1.0" stroke-linejoin="round" stroke-linecap="round" />
<path d="M473.0,376.0 L487.5,378.0" fill="none" stroke="#111" stroke-width="1.0" stroke-linejoin="round" stroke-linecap="round" />
<path d="M473.0,380.0 L487.5,382.0" fill="none" stroke="#111" stroke-width="1.0" stroke-linejoin="round" stroke-linecap="round" />
<path d="M473.0,384.0 L487.5,386.0" fill="none" stroke="#111" stroke-width="1.0" stroke-linejoin="round" stroke-linecap="round" />
<path d="M299.0,420.0 L299.0,283.0 L300.0,278.5 L302.5,275.0 L306.5,273.0 L446.0,332.0 L448.0,340.0 L448.0,455.0 L443.6,463.2 L438.8,472.8 L429.2,480.0 L414.8,484.8 L395.6,486.0 L376.4,482.4 L362.0,475.2 L347.6,463.2 L320.0,440.0 Z" fill="url(#st1)" stroke="#111" stroke-width="0" stroke-linejoin="round" stroke-linecap="round" stroke="none"/>
<g clip-path="url(#cfront)">
<path d="M296.0,268.0 L446.0,331.0 L446.0,341.0 L296.0,278.0 Z" fill="url(#st3)" stroke="#111" stroke-width="0" stroke-linejoin="round" stroke-linecap="round" stroke="none"/>
</g>
<path d="M303.0,280.0 L446.0,341.0" fill="none" stroke="#111" stroke-width="1.2" stroke-linejoin="round" stroke-linecap="round" />
<path d="M299.0,420.0 L299.0,283.0 L300.0,278.5 L302.5,275.0 L306.5,273.0" fill="none" stroke="#111" stroke-width="1.5" stroke-linejoin="round" stroke-linecap="round" />
<path d="M447.5,338.0 C447.5,357.5 448.1,434.1 447.5,455.0 C446.9,475.9 445.1,460.2 443.6,463.2 C442.2,466.2 441.2,470.0 438.8,472.8 C436.4,475.6 433.2,478.0 429.2,480.0 C425.2,482.0 420.4,483.8 414.8,484.8 C409.2,485.8 402.0,486.4 395.6,486.0 C389.2,485.6 382.0,484.2 376.4,482.4 C370.8,480.6 366.4,477.9 362.0,475.2 C357.6,472.5 352.0,467.5 350.0,466.0" fill="none" stroke="#111" stroke-width="1.5" stroke-linejoin="round" stroke-linecap="round" />
<path d="M302.0,365.0 C304.8,356.5 309.8,353.7 315.0,349.0 C320.2,344.3 326.0,339.7 333.0,337.0 C340.0,334.3 348.8,332.8 357.0,333.0 C365.2,333.2 374.8,335.2 382.0,338.0 C389.2,340.8 394.8,344.4 400.0,350.0 C405.2,355.6 409.9,363.0 413.5,371.8 C417.1,380.6 420.1,393.6 421.9,403.0 C423.6,412.4 424.6,420.8 424.0,428.0 C423.4,435.2 422.0,441.0 418.0,446.0 C414.0,451.0 406.3,455.0 400.0,458.0 C393.7,461.0 386.7,462.3 380.0,464.0 C373.3,465.7 365.8,467.0 360.0,468.0 C354.2,469.0 351.7,469.0 345.0,470.0 C338.3,471.0 327.5,475.7 320.0,474.0 C312.5,472.3 303.7,472.3 300.0,460.0 C296.3,447.7 297.7,415.8 298.0,400.0 C298.3,384.2 299.2,373.5 302.0,365.0 Z" fill="url(#st3)" stroke="#111" stroke-width="0" stroke-linejoin="round" stroke-linecap="round" stroke="none"/>
<path d="M302.0,365.0 C304.2,362.3 309.8,353.7 315.0,349.0 C320.2,344.3 326.0,339.7 333.0,337.0 C340.0,334.3 348.8,332.8 357.0,333.0 C365.2,333.2 374.8,335.2 382.0,338.0 C389.2,340.8 394.8,344.4 400.0,350.0 C405.2,355.6 409.9,363.0 413.5,371.8 C417.1,380.6 420.1,393.6 421.9,403.0 C423.6,412.4 424.6,420.8 424.0,428.0 C423.4,435.2 422.0,441.0 418.0,446.0 C414.0,451.0 406.3,455.0 400.0,458.0 C393.7,461.0 386.7,462.3 380.0,464.0 C373.3,465.7 365.8,467.0 360.0,468.0 C354.2,469.0 347.5,469.7 345.0,470.0" fill="none" stroke="#111" stroke-width="1.6" stroke-linejoin="round" stroke-linecap="round" />
<path d="M306.0,370.0 C309.1,364.2 313.6,359.5 318.4,355.0 C323.2,350.5 328.9,345.8 335.0,343.0 C341.1,340.2 349.6,338.1 355.0,338.0 C360.4,337.9 362.6,340.5 367.6,342.5 C372.6,344.5 379.8,346.2 385.0,350.0 C390.2,353.8 394.8,360.0 399.0,365.5 C403.2,371.0 407.6,377.4 410.0,383.0 C412.4,388.6 412.8,392.2 413.5,399.0 C414.2,405.8 415.8,416.7 414.0,424.0 C412.2,431.3 408.3,437.5 403.0,442.7 C397.7,447.9 388.3,452.1 382.0,455.0 C375.7,457.9 371.2,458.2 365.0,460.0 C358.8,461.8 352.5,464.0 345.0,466.0 C337.5,468.0 327.5,473.0 320.0,472.0 C312.5,471.0 303.3,473.7 300.0,460.0 C296.7,446.3 299.0,405.0 300.0,390.0 C301.0,375.0 302.9,375.8 306.0,370.0 Z" fill="#f6f7f6" stroke="#111" stroke-width="0" stroke-linejoin="round" stroke-linecap="round" stroke="none"/>
<path d="M306.0,370.0 C308.1,367.5 313.6,359.5 318.4,355.0 C323.2,350.5 328.9,345.8 335.0,343.0 C341.1,340.2 349.6,338.1 355.0,338.0 C360.4,337.9 362.6,340.5 367.6,342.5 C372.6,344.5 379.8,346.2 385.0,350.0 C390.2,353.8 394.8,360.0 399.0,365.5 C403.2,371.0 407.6,377.4 410.0,383.0 C412.4,388.6 412.8,392.2 413.5,399.0 C414.2,405.8 415.8,416.7 414.0,424.0 C412.2,431.3 408.3,437.5 403.0,442.7 C397.7,447.9 388.3,452.1 382.0,455.0 C375.7,457.9 371.2,458.2 365.0,460.0 C358.8,461.8 348.3,465.0 345.0,466.0" fill="none" stroke="#111" stroke-width="1.6" stroke-linejoin="round" stroke-linecap="round" />
<path d="M325.0,352.0 C329.2,351.2 342.2,347.0 350.0,347.0 C357.8,347.0 365.3,348.5 372.0,352.0 C378.7,355.5 385.2,361.3 390.0,368.0 C394.8,374.7 398.3,383.3 401.0,392.0 C403.7,400.7 405.7,411.2 406.0,420.0 C406.3,428.8 403.5,440.8 403.0,445.0" fill="none" stroke="#111" stroke-width="1.1" stroke-linejoin="round" stroke-linecap="round" />
<path d="M338.0,356.0 C342.0,356.0 354.7,353.7 362.0,356.0 C369.3,358.3 376.7,363.5 382.0,370.0 C387.3,376.5 391.3,385.8 394.0,395.0 C396.7,404.2 398.0,416.2 398.0,425.0 C398.0,433.8 394.7,444.2 394.0,448.0" fill="none" stroke="#111" stroke-width="1.0" stroke-linejoin="round" stroke-linecap="round" />
<path d="M350.0,362.0 C353.3,362.5 364.0,361.7 370.0,365.0 C376.0,368.3 382.3,374.5 386.0,382.0 C389.7,389.5 391.3,400.3 392.0,410.0 C392.7,419.7 390.3,435.0 390.0,440.0" fill="none" stroke="#111" stroke-width="1.0" stroke-linejoin="round" stroke-linecap="round" />
<path d="M305.9,325.0 C307.9,322.8 313.1,315.3 318.0,312.0 C322.9,308.7 332.3,306.2 335.2,305.0" stroke="#111" stroke-width="4.6" fill="none" stroke-linecap="round"/>
<path d="M323.4,321.7 C325.3,320.9 331.4,318.0 335.0,317.0 C338.6,316.0 343.5,316.1 345.2,315.9" stroke="#111" stroke-width="4.6" fill="none" stroke-linecap="round"/>
<path d="M343.5,320.9 C345.6,321.1 351.8,320.9 356.0,322.0 C360.2,323.1 366.5,326.7 368.6,327.6" stroke="#111" stroke-width="4.6" fill="none" stroke-linecap="round"/>
<path d="M360.2,316.7 C362.3,317.4 368.8,318.9 373.0,321.0 C377.2,323.1 383.2,327.9 385.3,329.3" stroke="#111" stroke-width="4.6" fill="none" stroke-linecap="round"/>
<path d="M306.7,333.4 C306.1,335.0 303.1,339.6 303.0,343.0 C302.9,346.4 305.5,351.8 306.0,353.5" stroke="#111" stroke-width="4.6" fill="none" stroke-linecap="round"/>
<path d="M315.0,340.0 C316.7,338.5 321.7,333.5 325.0,331.0 C328.3,328.5 333.3,326.0 335.0,325.0" stroke="#111" stroke-width="4.6" fill="none" stroke-linecap="round"/>
<path d="M397.0,336.8 C398.8,338.7 404.7,343.6 408.0,348.0 C411.3,352.4 415.5,360.9 417.0,363.5" stroke="#111" stroke-width="4.6" fill="none" stroke-linecap="round"/>
<path d="M378.6,331.0 C380.5,332.3 386.6,335.8 390.0,339.0 C393.4,342.2 397.2,348.2 398.7,350.0" stroke="#111" stroke-width="4.6" fill="none" stroke-linecap="round"/>
<path d="M418.8,346.8 C420.7,349.3 426.4,356.1 430.0,362.0 C433.6,367.9 438.8,378.7 440.5,382.0" stroke="#111" stroke-width="4.6" fill="none" stroke-linecap="round"/>
<path d="M407.0,360.0 C408.5,362.0 413.2,367.5 416.0,372.0 C418.8,376.5 422.5,384.5 423.8,387.0" stroke="#111" stroke-width="4.6" fill="none" stroke-linecap="round"/>
<path d="M425.5,375.3 C426.8,378.1 430.8,386.4 433.0,392.0 C435.2,397.6 437.8,405.9 438.8,408.7" stroke="#111" stroke-width="4.6" fill="none" stroke-linecap="round"/>
<path d="M428.8,395.0 C429.7,396.8 432.6,402.3 434.0,406.0 C435.4,409.7 436.5,415.2 437.0,417.0" stroke="#111" stroke-width="4.6" fill="none" stroke-linecap="round"/>
<path d="M430.0,430.0 C430.7,432.5 433.7,440.3 434.0,445.0 C434.3,449.7 432.3,455.8 432.0,458.0" stroke="#111" stroke-width="4.6" fill="none" stroke-linecap="round"/>
<path d="M424.0,452.0 C424.7,453.3 427.8,457.3 428.0,460.0 C428.2,462.7 425.5,466.7 425.0,468.0" stroke="#111" stroke-width="4.6" fill="none" stroke-linecap="round"/>
<path d="M355.0,474.0 C357.5,474.5 365.0,476.7 370.0,477.0 C375.0,477.3 382.5,476.2 385.0,476.0" stroke="#111" stroke-width="4.6" fill="none" stroke-linecap="round"/>
<path d="M392.0,474.0 C394.2,473.5 401.0,472.3 405.0,471.0 C409.0,469.7 414.2,466.8 416.0,466.0" stroke="#111" stroke-width="4.6" fill="none" stroke-linecap="round"/>
<path d="M365.0,483.0 C367.5,483.5 375.0,485.7 380.0,486.0 C385.0,486.3 392.5,485.2 395.0,485.0" stroke="#111" stroke-width="4.6" fill="none" stroke-linecap="round"/>
<path d="M405.0,481.0 C407.5,480.3 415.5,479.0 420.0,477.0 C424.5,475.0 430.0,470.3 432.0,469.0" stroke="#111" stroke-width="4.6" fill="none" stroke-linecap="round"/>
<path d="M436.0,446.0 C436.7,444.3 439.2,439.5 440.0,436.0 C440.8,432.5 440.8,426.8 441.0,425.0" stroke="#111" stroke-width="4.6" fill="none" stroke-linecap="round"/>
<path d="M434.4,548.2 C436.5,547.9 440.7,547.5 447.0,546.1 C453.3,544.7 465.2,543.6 472.2,539.8 C479.2,535.9 485.1,529.3 489.0,523.0 C492.9,516.7 494.9,509.7 495.3,502.0 C495.7,494.3 493.9,483.8 491.1,476.8 C488.3,469.8 482.7,465.1 478.5,460.0 C474.3,454.9 469.9,449.0 466.0,446.0 C462.1,443.0 456.8,442.7 455.0,442.0" fill="#f6f7f6" stroke="#111" stroke-width="1.5" stroke-linejoin="round" stroke-linecap="round" />
<path d="M459.6,458.0 C459.2,463.6 457.5,480.7 457.5,491.5 C457.5,502.3 457.9,516.2 459.6,523.0 C461.4,529.8 464.9,531.7 468.0,532.0 C471.1,532.3 475.6,530.3 478.0,525.0 C480.4,519.7 481.9,507.3 482.7,500.0 C483.5,492.7 483.8,486.8 482.7,481.0 C481.6,475.2 478.8,469.3 476.0,465.0 C473.2,460.7 467.7,456.7 466.0,455.0" fill="none" stroke="#111" stroke-width="1.2" stroke-linejoin="round" stroke-linecap="round" />
<path d="M314.7,487.3 C314.9,494.0 325.2,503.8 331.5,510.4 C337.8,517.0 344.4,522.0 352.5,527.2 C360.6,532.5 371.8,538.4 379.8,541.9 C387.9,545.4 394.5,547.2 400.8,548.2 C407.1,549.2 412.7,548.9 417.6,548.2 C422.5,547.5 426.7,546.5 430.2,544.0 C433.7,541.5 436.5,538.4 438.6,533.5 C440.7,528.6 441.8,521.6 442.8,514.6 C443.9,507.6 444.2,498.5 444.9,491.5 C445.6,484.5 446.5,474.5 447.0,472.6 C447.5,470.7 449.2,475.4 448.0,480.0 C446.8,484.6 446.3,498.3 440.0,500.0 C433.7,501.7 420.0,492.2 410.0,490.0 C400.0,487.8 390.0,490.3 380.0,487.0 C370.0,483.7 358.3,472.8 350.0,470.0 C341.7,467.2 335.9,467.1 330.0,470.0 C324.1,472.9 314.4,480.6 314.7,487.3 Z" fill="#f6f7f6" stroke="#111" stroke-width="0" stroke-linejoin="round" stroke-linecap="round" stroke="none"/>
<path d="M314.7,487.3 C317.5,491.1 325.2,503.8 331.5,510.4 C337.8,517.0 344.4,522.0 352.5,527.2 C360.6,532.5 371.8,538.4 379.8,541.9 C387.9,545.4 394.5,547.2 400.8,548.2 C407.1,549.2 412.7,548.9 417.6,548.2 C422.5,547.5 426.7,546.5 430.2,544.0 C433.7,541.5 436.5,538.4 438.6,533.5 C440.7,528.6 441.8,521.6 442.8,514.6 C443.9,507.6 444.2,498.5 444.9,491.5 C445.6,484.5 445.9,477.9 447.0,472.6 C448.1,467.4 450.5,462.1 451.2,460.0" fill="none" stroke="#111" stroke-width="1.5" stroke-linejoin="round" stroke-linecap="round" />
<path d="M313.6,484.0 C317.6,488.3 327.8,502.4 337.8,510.0 C347.8,517.5 361.6,523.6 373.5,529.3 C385.4,535.0 400.1,542.1 409.2,544.0 C418.3,545.9 423.4,542.9 428.0,540.8 C432.6,538.7 434.6,535.8 436.5,531.4 C438.4,527.0 438.7,521.5 439.6,514.6 C440.5,507.7 441.1,497.0 442.0,490.0 C442.9,483.0 444.4,475.5 444.9,472.6" fill="none" stroke="#111" stroke-width="1.3" stroke-linejoin="round" stroke-linecap="round" />
<path d="M329.4,474.7 C330.5,477.2 333.2,485.4 336.0,490.0 C338.8,494.6 341.9,498.3 346.2,502.0 C350.5,505.7 356.4,509.2 362.0,512.0 C367.6,514.8 376.8,517.7 379.8,518.8" fill="none" stroke="#111" stroke-width="1.1" stroke-linejoin="round" stroke-linecap="round" />
<path d="M342.0,470.0 C343.3,472.5 346.8,480.7 350.0,485.0 C353.2,489.3 356.8,492.4 361.0,495.7 C365.2,499.0 371.5,502.8 375.0,505.0 C378.5,507.2 380.8,508.3 381.9,509.0" fill="none" stroke="#111" stroke-width="1.0" stroke-linejoin="round" stroke-linecap="round" />
<path d="M377.7,487.3 C382.2,488.9 394.9,492.8 405.0,497.0 C415.1,501.2 433.0,509.9 438.6,512.5" fill="none" stroke="#111" stroke-width="1.2" stroke-linejoin="round" stroke-linecap="round" />
<path d="M388.2,487.3 C392.2,488.8 403.6,492.3 412.0,496.0 C420.4,499.7 434.2,507.2 438.6,509.5" fill="none" stroke="#111" stroke-width="1.0" stroke-linejoin="round" stroke-linecap="round" />
<path d="M414.8,532.8 C415.3,532.2 416.4,529.4 418.0,529.0 C419.6,528.6 423.3,530.2 424.4,530.4" fill="none" stroke="#111" stroke-width="1.0" stroke-linejoin="round" stroke-linecap="round" />
<path d="M450.0,415.1 L497.7,388.8 L505.3,390.0 L532.9,403.9 L534.1,407.6 L486.5,432.7 L485.2,434.0 L451.3,416.4 Z" fill="#f6f7f6" stroke="#111" stroke-width="1.5" stroke-linejoin="round" stroke-linecap="round" />
<path d="M486.5,431.4 L532.9,405.0" fill="none" stroke="#111" stroke-width="1.2" stroke-linejoin="round" stroke-linecap="round" />
<ellipse cx="492.7" cy="411.4" rx="7.5" ry="4.4" transform="rotate(-12 492.7 411.4)" fill="none" stroke="#111" stroke-width="1.3" />
<ellipse cx="491.0" cy="412.0" rx="3.5" ry="2.2" transform="rotate(-12 491.0 412.0)" fill="none" stroke="#111" stroke-width="1.0" />
<path d="M472.7,432.7 L466.0,446.0" fill="none" stroke="#111" stroke-width="1.1" stroke-linejoin="round" stroke-linecap="round" />
<path d="M448.8,417.6 L447.5,440.0" fill="none" stroke="#111" stroke-width="1.2" stroke-linejoin="round" stroke-linecap="round" />
<ellipse cx="397.6" cy="527.2" rx="5.0" ry="3.2" transform="rotate(-10 397.6 527.2)" fill="none" stroke="#111" stroke-width="1.3" />
<ellipse cx="397.6" cy="527.2" rx="2.5" ry="1.5" transform="rotate(-10 397.6 527.2)" fill="none" stroke="#111" stroke-width="0.9" />
<path d="M273.6,400.2 C278.8,395.8 296.2,388.0 301.4,383.5 C306.6,379.0 302.4,376.2 304.8,373.4 C307.2,370.6 311.2,368.9 316.0,366.7 C320.8,364.5 327.8,360.7 333.7,360.0 C339.6,359.3 346.4,360.4 351.6,362.3 C356.8,364.2 360.9,366.8 365.0,371.2 C369.1,375.6 373.1,382.3 376.1,389.0 C379.1,395.7 381.7,403.5 382.8,411.3 C383.9,419.1 383.9,428.5 382.8,435.9 C381.7,443.3 379.8,451.1 376.1,455.9 C372.4,460.7 369.1,461.4 360.5,464.8 C351.9,468.2 332.4,473.8 324.8,476.0 C317.2,478.2 319.1,479.0 315.0,478.0 C310.9,477.0 305.0,476.3 300.0,470.0 C295.0,463.7 290.0,450.0 285.0,440.0 C280.0,430.0 271.9,416.6 270.0,410.0 C268.1,403.4 268.4,404.6 273.6,400.2 Z" fill="#f6f7f6" stroke="#111" stroke-width="0" stroke-linejoin="round" stroke-linecap="round" stroke="none"/>
<path d="M273.6,400.2 C278.2,397.4 296.2,388.0 301.4,383.5 C306.6,379.0 302.4,376.2 304.8,373.4 C307.2,370.6 311.2,368.9 316.0,366.7 C320.8,364.5 327.8,360.7 333.7,360.0 C339.6,359.3 346.4,360.4 351.6,362.3 C356.8,364.2 360.9,366.8 365.0,371.2 C369.1,375.6 373.1,382.3 376.1,389.0 C379.1,395.7 381.7,403.5 382.8,411.3 C383.9,419.1 383.9,428.5 382.8,435.9 C381.7,443.3 379.8,451.1 376.1,455.9 C372.4,460.7 369.1,461.4 360.5,464.8 C351.9,468.2 330.8,474.1 324.8,476.0" fill="none" stroke="#111" stroke-width="1.5" stroke-linejoin="round" stroke-linecap="round" />
<path d="M309.0,372.0 C313.3,371.3 327.2,367.0 335.0,368.0 C342.8,369.0 350.2,373.0 356.0,378.0 C361.8,383.0 366.7,390.2 370.0,398.0 C373.3,405.8 375.5,416.3 376.0,425.0 C376.5,433.7 373.5,445.8 373.0,450.0" fill="none" stroke="#111" stroke-width="1.0" stroke-linejoin="round" stroke-linecap="round" />
<path d="M266.9,404.6 C267.6,402.8 271.4,399.1 275.8,400.2 C280.2,401.3 288.4,406.5 293.6,411.3 C298.8,416.1 302.9,423.2 307.0,429.2 C311.1,435.1 315.1,441.1 318.1,447.0 C321.1,452.9 323.7,460.0 324.8,464.8 C325.9,469.6 325.5,473.4 324.8,476.0 C324.1,478.6 322.6,480.4 320.4,480.4 C318.2,480.4 314.1,478.6 311.5,476.0 C308.9,473.4 307.4,470.0 304.8,464.8 C302.2,459.6 299.6,451.5 295.9,444.8 C292.2,438.1 286.6,430.3 282.5,424.7 C278.4,419.1 273.9,414.6 271.3,411.3 C268.7,408.0 266.1,406.5 266.9,404.6 Z" fill="#f6f7f6" stroke="#111" stroke-width="1.5" stroke-linejoin="round" stroke-linecap="round" />
<path d="M270.5,405.5 C270.8,404.4 272.6,402.2 276.0,403.5 C279.4,404.8 286.3,408.9 291.0,413.5 C295.7,418.1 300.0,425.1 304.0,431.0 C308.0,436.9 312.2,443.3 315.0,449.0 C317.8,454.7 320.0,460.8 321.0,465.0 C322.0,469.2 321.4,472.7 321.0,474.5 C320.6,476.3 319.7,476.6 318.5,476.0 C317.3,475.4 315.8,473.5 314.0,471.0 C312.2,468.5 310.5,465.8 308.0,461.0 C305.5,456.2 302.7,448.3 299.0,442.0 C295.3,435.7 290.2,428.3 286.0,423.0 C281.8,417.7 276.6,412.9 274.0,410.0 C271.4,407.1 270.2,406.6 270.5,405.5 Z" fill="none" stroke="#111" stroke-width="1.3" stroke-linejoin="round" stroke-linecap="round" />
<path d="M233.4,418.0 C236.7,414.0 251.2,411.2 256.8,409.0 C262.4,406.8 264.5,404.2 266.9,404.6 C269.3,405.0 268.7,408.0 271.3,411.3 C273.9,414.6 278.4,419.1 282.5,424.7 C286.6,430.3 292.2,438.1 295.9,444.8 C299.6,451.5 302.2,459.6 304.8,464.8 C307.4,470.0 311.0,472.8 311.5,476.0 C312.0,479.2 315.6,481.8 308.0,484.0 C300.4,486.2 273.5,489.3 266.0,489.0 C258.5,488.7 263.4,488.3 262.9,482.0 C262.4,475.7 263.7,456.7 262.9,451.3 C262.1,445.9 262.6,452.8 258.3,449.7 C254.0,446.6 241.0,438.2 236.8,432.9 C232.7,427.6 230.1,422.0 233.4,418.0 Z" fill="#f6f7f6" stroke="#111" stroke-width="0" stroke-linejoin="round" stroke-linecap="round" stroke="none"/>
<path d="M233.4,418.0 C237.3,416.5 251.2,411.2 256.8,409.0 C262.4,406.8 265.2,405.3 266.9,404.6" fill="none" stroke="#111" stroke-width="1.5" stroke-linejoin="round" stroke-linecap="round" />
<path d="M266.0,489.0 C269.2,488.7 279.3,487.5 285.0,487.0 C290.7,486.5 295.6,487.5 300.0,486.0 C304.4,484.5 309.6,479.3 311.5,478.0" fill="none" stroke="#111" stroke-width="1.3" stroke-linejoin="round" stroke-linecap="round" />
<path d="M136.8,474.6 C135.7,469.5 133.7,463.0 133.4,459.3 C133.1,455.6 134.0,454.3 135.1,452.5 C136.2,450.7 137.9,449.4 140.2,448.3 C142.5,447.2 146.1,445.7 148.7,445.7 C151.2,445.7 153.5,446.9 155.5,448.3 C157.5,449.7 159.2,451.8 160.6,454.2 C162.0,456.6 162.6,460.1 164.0,462.7 C165.4,465.2 167.0,467.8 169.0,469.5 C171.0,471.2 173.1,472.0 175.9,472.9 C178.8,473.8 184.0,473.4 186.1,474.6 C188.2,475.8 186.4,479.6 188.5,480.0 C190.6,480.4 195.7,476.7 198.5,476.7 C201.3,476.7 203.5,477.8 205.2,480.0 C206.9,482.2 208.2,486.1 208.6,490.0 C209.0,493.9 208.0,499.8 207.7,503.4 C207.4,507.0 206.8,504.8 206.9,511.8 C207.1,518.8 208.1,538.3 208.6,545.3 C209.1,552.3 209.6,551.1 210.2,553.6 C210.8,556.1 211.1,557.5 211.9,560.3 C212.8,563.1 215.0,567.2 215.3,570.3 C215.6,573.4 215.0,576.5 213.6,578.7 C212.2,580.9 209.7,583.2 206.9,583.7 C204.1,584.2 199.4,583.1 196.9,582.0 C194.4,580.9 192.9,579.0 191.8,577.0 C190.7,575.0 193.0,573.1 190.2,570.3 C187.4,567.5 180.9,565.0 175.0,560.0 C169.1,555.0 160.0,548.3 155.0,540.0 C150.0,531.7 147.5,518.3 145.0,510.0 C142.5,501.7 141.4,495.9 140.0,490.0 C138.6,484.1 137.9,479.7 136.8,474.6 Z" fill="#f6f7f6" stroke="#111" stroke-width="1.5" stroke-linejoin="round" stroke-linecap="round" />
<ellipse cx="143.6" cy="464.4" rx="4.3" ry="7.2" transform="rotate(-15 143.6 464.4)" fill="none" stroke="#111" stroke-width="1.3" />
<ellipse cx="196.0" cy="491.7" rx="4.6" ry="7.0" transform="rotate(-15 196.0 491.7)" fill="none" stroke="#111" stroke-width="1.3" />
<ellipse cx="198.5" cy="573.7" rx="4.6" ry="6.5" transform="rotate(-15 198.5 573.7)" fill="none" stroke="#111" stroke-width="1.3" />
<path d="M146.0,487.0 C149.2,486.7 158.5,483.7 165.0,485.0 C171.5,486.3 179.3,490.0 185.0,495.0 C190.7,500.0 195.8,507.5 199.0,515.0 C202.2,522.5 203.8,532.5 204.0,540.0 C204.2,547.5 202.0,555.3 200.0,560.0 C198.0,564.7 193.3,566.7 192.0,568.0" fill="none" stroke="#111" stroke-width="1.3" stroke-linejoin="round" stroke-linecap="round" />
<path d="M150.0,493.0 C152.7,492.7 160.5,489.8 166.0,491.0 C171.5,492.2 178.2,495.5 183.0,500.0 C187.8,504.5 192.3,511.3 195.0,518.0 C197.7,524.7 198.8,533.7 199.0,540.0 C199.2,546.3 196.5,553.3 196.0,556.0" fill="none" stroke="#111" stroke-width="1.0" stroke-linejoin="round" stroke-linecap="round" />
<path d="M154.0,498.0 C156.2,497.8 162.5,495.8 167.0,497.0 C171.5,498.2 176.8,500.8 181.0,505.0 C185.2,509.2 189.7,516.2 192.0,522.0 C194.3,527.8 194.5,537.0 195.0,540.0" fill="none" stroke="#111" stroke-width="1.0" stroke-linejoin="round" stroke-linecap="round" />
<path d="M235.0,433.0 L262.0,447.6 L262.5,470.0 L262.5,493.0 L255.0,489.0 L240.0,488.0 L227.0,490.0 L223.6,505.0 L222.0,525.2 L227.0,540.2 L223.6,552.0 L212.0,553.0 L208.0,540.0 L207.0,512.0 L209.0,495.0 L205.0,482.0 L196.0,476.0 L215.0,475.0 L230.0,468.0 Z" fill="#f6f7f6" stroke="#111" stroke-width="1.5" stroke-linejoin="round" stroke-linecap="round" />
<path d="M239.0,458.0 L257.0,460.0 L257.0,486.0" fill="none" stroke="#111" stroke-width="1.2" stroke-linejoin="round" stroke-linecap="round" />
<path d="M216.0,512.0 C216.5,515.0 218.8,524.5 219.0,530.0 C219.2,535.5 217.3,542.5 217.0,545.0" fill="none" stroke="#111" stroke-width="1.0" stroke-linejoin="round" stroke-linecap="round" />
<path d="M211.8,473.5 L230.6,471.5 L231.0,480.0 L212.5,482.0 Z" fill="#f6f7f6" stroke="#111" stroke-width="1.2" stroke-linejoin="round" stroke-linecap="round" />
<path d="M213.5,473.0 L214.5,481.5" fill="none" stroke="#111" stroke-width="1.1" stroke-linejoin="round" stroke-linecap="round" />
<path d="M216.6,473.0 L217.6,481.5" fill="none" stroke="#111" stroke-width="1.1" stroke-linejoin="round" stroke-linecap="round" />
<path d="M219.7,473.0 L220.7,481.5" fill="none" stroke="#111" stroke-width="1.1" stroke-linejoin="round" stroke-linecap="round" />
<path d="M222.8,473.0 L223.8,481.5" fill="none" stroke="#111" stroke-width="1.1" stroke-linejoin="round" stroke-linecap="round" />
<path d="M225.9,473.0 L226.9,481.5" fill="none" stroke="#111" stroke-width="1.1" stroke-linejoin="round" stroke-linecap="round" />
<path d="M229.0,473.0 L230.0,481.5" fill="none" stroke="#111" stroke-width="1.1" stroke-linejoin="round" stroke-linecap="round" />
<path d="M214.0,484.0 C215.0,484.7 216.9,487.4 220.0,488.0 C223.1,488.6 228.5,487.7 232.7,487.3 C236.9,486.9 240.8,485.9 245.0,485.5 C249.2,485.1 253.6,484.6 257.8,485.2 C262.0,485.8 266.8,487.3 270.3,489.4 C273.8,491.5 277.3,496.4 278.7,497.8" fill="none" stroke="#111" stroke-width="1.2" stroke-linejoin="round" stroke-linecap="round" />
<path d="M175.9,461.0 C173.5,459.0 176.0,452.8 176.8,449.1 C177.7,445.4 178.6,442.0 181.0,438.9 C183.4,435.8 187.2,432.4 191.2,430.4 C195.2,428.4 200.3,427.9 204.8,427.0 C209.3,426.1 214.2,425.6 218.4,425.3 C222.7,425.0 227.5,424.5 230.3,425.3 C233.1,426.1 234.7,427.6 235.4,430.4 C236.1,433.2 235.4,438.9 234.6,442.3 C233.8,445.7 232.4,448.4 230.3,450.8 C228.2,453.2 225.8,455.2 221.8,456.8 C217.8,458.4 211.6,459.5 206.5,460.2 C201.4,460.9 196.3,460.9 191.2,461.0 C186.1,461.1 178.3,463.0 175.9,461.0 Z" fill="#f6f7f6" stroke="#111" stroke-width="1.5" stroke-linejoin="round" stroke-linecap="round" />
<path d="M177.6,461.0 C178.2,461.9 177.6,464.8 181.0,466.1 C184.4,467.4 192.3,468.4 198.0,468.7 C203.7,469.0 209.9,468.5 215.0,467.8 C220.1,467.1 225.6,466.5 228.6,464.4 C231.6,462.3 232.3,456.6 233.0,455.0" fill="none" stroke="#111" stroke-width="1.3" stroke-linejoin="round" stroke-linecap="round" />
<path d="M186.1,446.6 L221.8,423.6" fill="none" stroke="#111" stroke-width="1.2" stroke-linejoin="round" stroke-linecap="round" />
<path d="M189.5,453.4 L232.0,431.3" fill="none" stroke="#111" stroke-width="1.2" stroke-linejoin="round" stroke-linecap="round" />
<path d="M179.2,450.0 C179.7,441.6 187.0,440.5 190.3,445.0" stroke="#111" stroke-width="2.2" fill="none"/>
<path d="M179.7,448.7 L182.5,446.0 L188.1,446.0 L190.9,448.7 L190.9,452.0 L188.1,454.7 L182.5,454.7 L179.7,452.0 Z" fill="#f6f7f6" stroke="#111" stroke-width="1.5" stroke-linejoin="round" stroke-linecap="round" />
<path d="M190.9,448.7 L188.1,451.3 L182.5,451.3 L179.7,448.7 L182.5,446.0 L188.1,446.0 Z" fill="none" stroke="#111" stroke-width="1.2" stroke-linejoin="round" stroke-linecap="round" />
<path d="M190.9,448.7 L190.9,452.0" fill="none" stroke="#111" stroke-width="1.1" stroke-linejoin="round" stroke-linecap="round" />
<path d="M188.1,451.3 L188.1,454.7" fill="none" stroke="#111" stroke-width="1.1" stroke-linejoin="round" stroke-linecap="round" />
<path d="M182.5,451.3 L182.5,454.7" fill="none" stroke="#111" stroke-width="1.1" stroke-linejoin="round" stroke-linecap="round" />
<path d="M179.7,448.7 L179.7,452.0" fill="none" stroke="#111" stroke-width="1.1" stroke-linejoin="round" stroke-linecap="round" />
<path d="M183.3,448.3 L187.3,449.0" fill="none" stroke="#111" stroke-width="0.9" stroke-linejoin="round" stroke-linecap="round" />
<path d="M219.1,426.2 C219.6,417.8 226.9,416.7 230.2,421.2" stroke="#111" stroke-width="2.2" fill="none"/>
<path d="M219.6,424.9 L222.4,422.2 L228.0,422.2 L230.8,424.9 L230.8,428.2 L228.0,430.9 L222.4,430.9 L219.6,428.2 Z" fill="#f6f7f6" stroke="#111" stroke-width="1.5" stroke-linejoin="round" stroke-linecap="round" />
<path d="M230.8,424.9 L228.0,427.5 L222.4,427.5 L219.6,424.9 L222.4,422.2 L228.0,422.2 Z" fill="none" stroke="#111" stroke-width="1.2" stroke-linejoin="round" stroke-linecap="round" />
<path d="M230.8,424.9 L230.8,428.2" fill="none" stroke="#111" stroke-width="1.1" stroke-linejoin="round" stroke-linecap="round" />
<path d="M228.0,427.5 L228.0,430.9" fill="none" stroke="#111" stroke-width="1.1" stroke-linejoin="round" stroke-linecap="round" />
<path d="M222.4,427.5 L222.4,430.9" fill="none" stroke="#111" stroke-width="1.1" stroke-linejoin="round" stroke-linecap="round" />
<path d="M219.6,424.9 L219.6,428.2" fill="none" stroke="#111" stroke-width="1.1" stroke-linejoin="round" stroke-linecap="round" />
<path d="M223.2,424.5 L227.2,425.2" fill="none" stroke="#111" stroke-width="0.9" stroke-linejoin="round" stroke-linecap="round" />
<path d="M227.0,531.9 C227.4,529.1 228.4,525.1 230.3,521.8 C232.2,518.4 235.6,514.9 238.7,511.8 C241.8,508.7 245.1,506.2 248.7,503.4 C252.3,500.6 256.5,496.7 260.4,495.0 C264.3,493.3 268.5,492.8 272.1,493.4 C275.7,494.0 279.6,495.9 282.1,498.4 C284.6,500.9 286.6,505.1 287.2,508.5 C287.8,511.9 286.9,515.4 285.5,518.5 C284.1,521.6 281.9,523.8 278.8,526.9 C275.7,530.0 271.3,533.8 267.1,536.9 C262.9,540.0 258.2,543.3 253.7,545.3 C249.2,547.2 243.9,548.6 240.3,548.6 C236.7,548.6 234.1,547.0 232.0,545.3 C229.9,543.6 228.6,540.8 227.8,538.6 C227.0,536.4 226.6,534.7 227.0,531.9 Z" fill="#f6f7f6" stroke="#111" stroke-width="1.5" stroke-linejoin="round" stroke-linecap="round" />
<path d="M240.3,530.2 L278.8,506.8" fill="none" stroke="#111" stroke-width="1.2" stroke-linejoin="round" stroke-linecap="round" />
<path d="M245.4,536.9 L283.8,518.5" fill="none" stroke="#111" stroke-width="1.2" stroke-linejoin="round" stroke-linecap="round" />
<path d="M232.6,536.0 C233.1,527.6 240.4,526.5 243.7,531.0" stroke="#111" stroke-width="2.2" fill="none"/>
<path d="M233.1,534.7 L235.9,532.0 L241.5,532.0 L244.3,534.7 L244.3,538.0 L241.5,540.7 L235.9,540.7 L233.1,538.0 Z" fill="#f6f7f6" stroke="#111" stroke-width="1.5" stroke-linejoin="round" stroke-linecap="round" />
<path d="M244.3,534.7 L241.5,537.3 L235.9,537.3 L233.1,534.7 L235.9,532.0 L241.5,532.0 Z" fill="none" stroke="#111" stroke-width="1.2" stroke-linejoin="round" stroke-linecap="round" />
<path d="M244.3,534.7 L244.3,538.0" fill="none" stroke="#111" stroke-width="1.1" stroke-linejoin="round" stroke-linecap="round" />
<path d="M241.5,537.3 L241.5,540.7" fill="none" stroke="#111" stroke-width="1.1" stroke-linejoin="round" stroke-linecap="round" />
<path d="M235.9,537.3 L235.9,540.7" fill="none" stroke="#111" stroke-width="1.1" stroke-linejoin="round" stroke-linecap="round" />
<path d="M233.1,534.7 L233.1,538.0" fill="none" stroke="#111" stroke-width="1.1" stroke-linejoin="round" stroke-linecap="round" />
<path d="M236.7,534.3 L240.7,535.0" fill="none" stroke="#111" stroke-width="0.9" stroke-linejoin="round" stroke-linecap="round" />
<path d="M275.2,511.8 C275.7,503.4 283.0,502.3 286.3,506.8" stroke="#111" stroke-width="2.2" fill="none"/>
<path d="M275.7,510.5 L278.5,507.8 L284.1,507.8 L286.9,510.5 L286.9,513.8 L284.1,516.5 L278.5,516.5 L275.7,513.8 Z" fill="#f6f7f6" stroke="#111" stroke-width="1.5" stroke-linejoin="round" stroke-linecap="round" />
<path d="M286.9,510.5 L284.1,513.1 L278.5,513.1 L275.7,510.5 L278.5,507.8 L284.1,507.8 Z" fill="none" stroke="#111" stroke-width="1.2" stroke-linejoin="round" stroke-linecap="round" />
<path d="M286.9,510.5 L286.9,513.8" fill="none" stroke="#111" stroke-width="1.1" stroke-linejoin="round" stroke-linecap="round" />
<path d="M284.1,513.1 L284.1,516.5" fill="none" stroke="#111" stroke-width="1.1" stroke-linejoin="round" stroke-linecap="round" />
<path d="M278.5,513.1 L278.5,516.5" fill="none" stroke="#111" stroke-width="1.1" stroke-linejoin="round" stroke-linecap="round" />
<path d="M275.7,510.5 L275.7,513.8" fill="none" stroke="#111" stroke-width="1.1" stroke-linejoin="round" stroke-linecap="round" />
<path d="M279.3,510.1 L283.3,510.8" fill="none" stroke="#111" stroke-width="0.9" stroke-linejoin="round" stroke-linecap="round" />
<path d="M220.3,486.7 C222.5,487.0 228.9,488.5 233.6,488.4 C238.3,488.3 244.2,486.5 248.7,485.9 C253.2,485.3 256.5,484.3 260.4,485.0 C264.3,485.7 270.2,489.2 272.1,490.0" fill="none" stroke="#111" stroke-width="1.1" stroke-linejoin="round" stroke-linecap="round" />
<ellipse cx="113.2" cy="549.9" rx="68.5" ry="98.5" transform="rotate(-30.7 113.2 549.9)" fill="#f6f7f6" stroke="#111" stroke-width="1.5" />
<ellipse cx="103.2" cy="556.9" rx="68.5" ry="98.5" transform="rotate(-30.7 103.2 556.9)" fill="#f6f7f6" stroke="#111" stroke-width="1.5" />
<ellipse cx="100.6" cy="555.3" rx="44.0" ry="55.5" transform="rotate(-16 100.6 555.3)" fill="none" stroke="#111" stroke-width="1.4" />
<ellipse cx="101.0" cy="555.5" rx="32.0" ry="40.0" transform="rotate(-16 101.0 555.5)" fill="none" stroke="#111" stroke-width="1.4" />
<ellipse cx="107.0" cy="553.0" rx="26.0" ry="35.0" transform="rotate(-16 107.0 553.0)" fill="none" stroke="#111" stroke-width="1.2" />
<ellipse cx="42.0" cy="521.8" rx="7.0" ry="9.5" transform="rotate(-18 42.0 521.8)" fill="none" stroke="#111" stroke-width="1.4" />
<ellipse cx="115.2" cy="499.9" rx="7.0" ry="9.5" transform="rotate(-18 115.2 499.9)" fill="none" stroke="#111" stroke-width="1.4" />
<ellipse cx="161.2" cy="586.6" rx="7.0" ry="9.5" transform="rotate(-18 161.2 586.6)" fill="none" stroke="#111" stroke-width="1.4" />
<ellipse cx="88.1" cy="607.5" rx="7.0" ry="9.5" transform="rotate(-18 88.1 607.5)" fill="none" stroke="#111" stroke-width="1.4" />
<ellipse cx="77.6" cy="498.8" rx="4.0" ry="4.4" transform="rotate(0 77.6 498.8)" fill="#f6f7f6" stroke="#111" stroke-width="1.2" />
<ellipse cx="77.6" cy="498.8" rx="2.0" ry="2.0" transform="rotate(0 77.6 498.8)" fill="none" stroke="#111" stroke-width="0.9" />
<ellipse cx="128.8" cy="529.1" rx="5.0" ry="5.5" transform="rotate(0 128.8 529.1)" fill="#f6f7f6" stroke="#111" stroke-width="1.2" />
<ellipse cx="128.8" cy="529.1" rx="2.5" ry="2.5" transform="rotate(0 128.8 529.1)" fill="none" stroke="#111" stroke-width="0.9" />
<ellipse cx="77.6" cy="582.4" rx="4.0" ry="4.4" transform="rotate(0 77.6 582.4)" fill="#f6f7f6" stroke="#111" stroke-width="1.2" />
<ellipse cx="77.6" cy="582.4" rx="2.0" ry="2.0" transform="rotate(0 77.6 582.4)" fill="none" stroke="#111" stroke-width="0.9" />
<ellipse cx="126.7" cy="607.5" rx="4.0" ry="4.4" transform="rotate(0 126.7 607.5)" fill="#f6f7f6" stroke="#111" stroke-width="1.2" />
<ellipse cx="126.7" cy="607.5" rx="2.0" ry="2.0" transform="rotate(0 126.7 607.5)" fill="none" stroke="#111" stroke-width="0.9" />
<path d="M266.0,140.5 L266.0,167.5 Q274,171.5 282.0,167.5 L282.0,140.5" fill="#f6f7f6" stroke="#111" stroke-width="1.3" stroke-linejoin="round" stroke-linecap="round" />
<path d="M266.5,145.5 L281.5,146.7" fill="none" stroke="#111" stroke-width="0.9" stroke-linejoin="round" stroke-linecap="round" />
<path d="M266.5,147.9 L281.5,149.1" fill="none" stroke="#111" stroke-width="0.9" stroke-linejoin="round" stroke-linecap="round" />
<path d="M266.5,150.3 L281.5,151.5" fill="none" stroke="#111" stroke-width="0.9" stroke-linejoin="round" stroke-linecap="round" />
<path d="M266.5,152.7 L281.5,153.9" fill="none" stroke="#111" stroke-width="0.9" stroke-linejoin="round" stroke-linecap="round" />
<path d="M266.5,155.1 L281.5,156.3" fill="none" stroke="#111" stroke-width="0.9" stroke-linejoin="round" stroke-linecap="round" />
<path d="M266.5,157.5 L281.5,158.7" fill="none" stroke="#111" stroke-width="0.9" stroke-linejoin="round" stroke-linecap="round" />
<path d="M266.5,159.9 L281.5,161.1" fill="none" stroke="#111" stroke-width="0.9" stroke-linejoin="round" stroke-linecap="round" />
<path d="M266.5,162.3 L281.5,163.5" fill="none" stroke="#111" stroke-width="0.9" stroke-linejoin="round" stroke-linecap="round" />
<path d="M266.5,164.7 L281.5,165.9" fill="none" stroke="#111" stroke-width="0.9" stroke-linejoin="round" stroke-linecap="round" />
<path d="M261.0,132.2 L267.5,126.5 L280.5,126.5 L287.0,132.2 L287.0,137.8 L280.5,143.5 L267.5,143.5 L261.0,137.8 Z" fill="#f6f7f6" stroke="#111" stroke-width="1.3" stroke-linejoin="round" stroke-linecap="round" />
<path d="M261.0,132.2 L267.5,126.5 L280.5,126.5 L287.0,132.2 L280.5,137.9 L267.5,137.9 Z" fill="none" stroke="#111" stroke-width="1.3" stroke-linejoin="round" stroke-linecap="round" />
<path d="M267.5,137.9 L267.5,143.5" fill="none" stroke="#111" stroke-width="1.3" stroke-linejoin="round" stroke-linecap="round" />
<path d="M280.5,137.9 L280.5,143.5" fill="none" stroke="#111" stroke-width="1.3" stroke-linejoin="round" stroke-linecap="round" />
<path d="M261.5,178.4 A13.5,5.3999999999999995 0 0 1 288.5,178.4 L288.5,182.6 A13.5,5.3999999999999995 0 0 1 261.5,182.6 Z" fill="#f6f7f6" stroke="#111" stroke-width="1.3" stroke-linejoin="round" stroke-linecap="round" />
<ellipse cx="275.0" cy="178.4" rx="13.5" ry="5.4" transform="rotate(0 275.0 178.4)" fill="none" stroke="#111" stroke-width="1.3" />
<ellipse cx="275.0" cy="178.4" rx="6.5" ry="2.7" transform="rotate(0 275.0 178.4)" fill="none" stroke="#111" stroke-width="1.3" />
<path d="M262.0,199.7 L268.5,194.0 L281.5,194.0 L288.0,199.7 L288.0,206.3 L281.5,212.0 L268.5,212.0 L262.0,206.3 Z" fill="#f6f7f6" stroke="#111" stroke-width="1.3" stroke-linejoin="round" stroke-linecap="round" />
<path d="M262.0,199.7 L268.5,194.0 L281.5,194.0 L288.0,199.7 L281.5,205.4 L268.5,205.4 Z" fill="none" stroke="#111" stroke-width="1.3" stroke-linejoin="round" stroke-linecap="round" />
<path d="M268.5,205.4 L268.5,212.0" fill="none" stroke="#111" stroke-width="1.3" stroke-linejoin="round" stroke-linecap="round" />
<path d="M281.5,205.4 L281.5,212.0" fill="none" stroke="#111" stroke-width="1.3" stroke-linejoin="round" stroke-linecap="round" />
<ellipse cx="275.0" cy="199.7" rx="6.5" ry="3.4" transform="rotate(0 275.0 199.7)" fill="none" stroke="#111" stroke-width="1.3" />
<ellipse cx="275.0" cy="200.3" rx="3.6" ry="1.8" transform="rotate(0 275.0 200.3)" fill="none" stroke="#111" stroke-width="1.04" />
<path d="M543.0,56.3 L549.0,51.0 L561.0,51.0 L567.0,56.3 L567.0,64.7 L561.0,70.0 L549.0,70.0 L543.0,64.7 Z" fill="#f6f7f6" stroke="#111" stroke-width="1.3" stroke-linejoin="round" stroke-linecap="round" />
<path d="M543.0,56.3 L549.0,51.0 L561.0,51.0 L567.0,56.3 L561.0,61.6 L549.0,61.6 Z" fill="none" stroke="#111" stroke-width="1.3" stroke-linejoin="round" stroke-linecap="round" />
<path d="M549.0,61.6 L549.0,70.0" fill="none" stroke="#111" stroke-width="1.3" stroke-linejoin="round" stroke-linecap="round" />
<path d="M561.0,61.6 L561.0,70.0" fill="none" stroke="#111" stroke-width="1.3" stroke-linejoin="round" stroke-linecap="round" />
<ellipse cx="555.0" cy="56.3" rx="6.0" ry="3.2" transform="rotate(0 555.0 56.3)" fill="none" stroke="#111" stroke-width="1.3" />
<ellipse cx="555.0" cy="56.8" rx="3.4" ry="1.7" transform="rotate(0 555.0 56.8)" fill="none" stroke="#111" stroke-width="1.04" />
<path d="M543.0,83.0 A12.0,5.3999999999999995 0 0 1 567.0,83.0 L567.0,87.19999999999999 A12.0,5.3999999999999995 0 0 1 543.0,87.19999999999999 Z" fill="#f6f7f6" stroke="#111" stroke-width="1.3" stroke-linejoin="round" stroke-linecap="round" />
<ellipse cx="555.0" cy="83.0" rx="12.0" ry="5.4" transform="rotate(0 555.0 83.0)" fill="none" stroke="#111" stroke-width="1.3" />
<ellipse cx="555.0" cy="83.0" rx="5.8" ry="2.7" transform="rotate(0 555.0 83.0)" fill="none" stroke="#111" stroke-width="1.3" />
<path d="M542.5,132.5 L548.8,127.0 L561.2,127.0 L567.5,132.5 L567.5,136.5 L561.2,142.0 L548.8,142.0 L542.5,136.5 Z" fill="#f6f7f6" stroke="#111" stroke-width="1.3" stroke-linejoin="round" stroke-linecap="round" />
<path d="M542.5,132.5 L548.8,127.0 L561.2,127.0 L567.5,132.5 L561.2,138.0 L548.8,138.0 Z" fill="none" stroke="#111" stroke-width="1.3" stroke-linejoin="round" stroke-linecap="round" />
<path d="M548.8,138.0 L548.8,142.0" fill="none" stroke="#111" stroke-width="1.3" stroke-linejoin="round" stroke-linecap="round" />
<path d="M561.2,138.0 L561.2,142.0" fill="none" stroke="#111" stroke-width="1.3" stroke-linejoin="round" stroke-linecap="round" />
<path d="M547.75,131 L547.75,103 A7.25,3 0 0 1 562.25,103 L562.25,131" fill="#f6f7f6" stroke="#111" stroke-width="1.3" stroke-linejoin="round" stroke-linecap="round" />
<ellipse cx="555.0" cy="103.0" rx="7.2" ry="3.0" transform="rotate(0 555.0 103.0)" fill="none" stroke="#111" stroke-width="1.1700000000000002" />
<path d="M548.2,106.0 L561.8,107.2" fill="none" stroke="#111" stroke-width="0.9" stroke-linejoin="round" stroke-linecap="round" />
<path d="M548.2,108.4 L561.8,109.6" fill="none" stroke="#111" stroke-width="0.9" stroke-linejoin="round" stroke-linecap="round" />
<path d="M548.2,110.8 L561.8,112.0" fill="none" stroke="#111" stroke-width="0.9" stroke-linejoin="round" stroke-linecap="round" />
<path d="M548.2,113.2 L561.8,114.4" fill="none" stroke="#111" stroke-width="0.9" stroke-linejoin="round" stroke-linecap="round" />
<path d="M548.2,115.6 L561.8,116.8" fill="none" stroke="#111" stroke-width="0.9" stroke-linejoin="round" stroke-linecap="round" />
<path d="M548.2,118.0 L561.8,119.2" fill="none" stroke="#111" stroke-width="0.9" stroke-linejoin="round" stroke-linecap="round" />
<path d="M548.2,120.4 L561.8,121.6" fill="none" stroke="#111" stroke-width="0.9" stroke-linejoin="round" stroke-linecap="round" />
<path d="M548.2,122.8 L561.8,124.0" fill="none" stroke="#111" stroke-width="0.9" stroke-linejoin="round" stroke-linecap="round" />
<ellipse cx="862.5" cy="229.0" rx="9.5" ry="12.0" transform="rotate(-20 862.5 229.0)" fill="#f6f7f6" stroke="#111" stroke-width="1.4" />
<ellipse cx="858.5" cy="230.0" rx="9.5" ry="12.0" transform="rotate(-20 858.5 230.0)" fill="#f6f7f6" stroke="#111" stroke-width="1.4" />
<ellipse cx="858.5" cy="230.0" rx="5.2" ry="6.6" transform="rotate(-20 858.5 230.0)" fill="none" stroke="#111" stroke-width="1.26" />
<ellipse cx="858.5" cy="230.0" rx="2.9" ry="3.6" transform="rotate(-20 858.5 230.0)" fill="none" stroke="#111" stroke-width="1.1199999999999999" />
<ellipse cx="841.0" cy="241.0" rx="9.0" ry="12.0" transform="rotate(-20 841.0 241.0)" fill="#f6f7f6" stroke="#111" stroke-width="1.4" />
<ellipse cx="838.0" cy="242.0" rx="9.0" ry="12.0" transform="rotate(-20 838.0 242.0)" fill="#f6f7f6" stroke="#111" stroke-width="1.4" />
<ellipse cx="838.0" cy="242.0" rx="4.5" ry="6.0" transform="rotate(-20 838.0 242.0)" fill="none" stroke="#111" stroke-width="1.26" />
<path d="M799.8,271.4 L827.8,259.4 A3.1,7.0 -23.2 0 0 822.2,246.6 L794.2,258.6 Z" fill="#f6f7f6" stroke="#111" stroke-width="1.3" stroke-linejoin="round" stroke-linecap="round" />
<path d="M799.6,271.1 L795.9,258.3" fill="none" stroke="#111" stroke-width="1.0" stroke-linejoin="round" stroke-linecap="round" />
<path d="M801.9,270.1 L798.1,257.3" fill="none" stroke="#111" stroke-width="1.0" stroke-linejoin="round" stroke-linecap="round" />
<path d="M804.2,269.1 L800.4,256.3" fill="none" stroke="#111" stroke-width="1.0" stroke-linejoin="round" stroke-linecap="round" />
<path d="M806.5,268.2 L802.7,255.3" fill="none" stroke="#111" stroke-width="1.0" stroke-linejoin="round" stroke-linecap="round" />
<path d="M808.8,267.2 L805.0,254.3" fill="none" stroke="#111" stroke-width="1.0" stroke-linejoin="round" stroke-linecap="round" />
<path d="M811.1,266.2 L807.3,253.3" fill="none" stroke="#111" stroke-width="1.0" stroke-linejoin="round" stroke-linecap="round" />
<path d="M813.4,265.2 L809.6,252.3" fill="none" stroke="#111" stroke-width="1.0" stroke-linejoin="round" stroke-linecap="round" />
<path d="M815.7,264.2 L811.9,251.4" fill="none" stroke="#111" stroke-width="1.0" stroke-linejoin="round" stroke-linecap="round" />
<path d="M818.0,263.2 L814.2,250.4" fill="none" stroke="#111" stroke-width="1.0" stroke-linejoin="round" stroke-linecap="round" />
<path d="M820.3,262.2 L816.5,249.4" fill="none" stroke="#111" stroke-width="1.0" stroke-linejoin="round" stroke-linecap="round" />
<path d="M822.6,261.3 L818.8,248.4" fill="none" stroke="#111" stroke-width="1.0" stroke-linejoin="round" stroke-linecap="round" />
<path d="M824.9,260.3 L821.1,247.4" fill="none" stroke="#111" stroke-width="1.0" stroke-linejoin="round" stroke-linecap="round" />
<path d="M779.6,261.9 L784.6,259.9 L795.7,255.4 L802.1,264.0 L803.5,274.6 L798.5,276.7 L787.4,281.1 L781.0,272.5 Z" fill="#f6f7f6" stroke="#111" stroke-width="1.4" stroke-linejoin="round" stroke-linecap="round" />
<path d="M791.0,268.5 L792.4,279.1 L787.4,281.1 L781.0,272.5 L779.6,261.9 L784.6,259.9 Z" fill="none" stroke="#111" stroke-width="1.4" stroke-linejoin="round" stroke-linecap="round" />
<path d="M791.0,268.5 L802.1,264.0" fill="none" stroke="#111" stroke-width="1.1" stroke-linejoin="round" stroke-linecap="round" />
<path d="M792.4,279.1 L803.5,274.6" fill="none" stroke="#111" stroke-width="1.1" stroke-linejoin="round" stroke-linecap="round" />
<path d="M784.6,259.9 L795.7,255.4" fill="none" stroke="#111" stroke-width="1.1" stroke-linejoin="round" stroke-linecap="round" />
<path d="M53.2,455.2 L41.5,463.0 L29.8,455.2 L29.8,439.8 L41.5,432.0 L53.2,439.8 Z" fill="#f6f7f6" stroke="#111" stroke-width="1.4" stroke-linejoin="round" stroke-linecap="round" />
<path d="M49.2,457.2 L37.5,465.0 L25.8,457.2 L25.8,441.8 L37.5,434.0 L49.2,441.8 Z" fill="#f6f7f6" stroke="#111" stroke-width="1.4" stroke-linejoin="round" stroke-linecap="round" />
<ellipse cx="37.5" cy="449.5" rx="8.4" ry="9.3" transform="rotate(0 37.5 449.5)" fill="none" stroke="#111" stroke-width="1.2" />
<ellipse cx="37.5" cy="449.5" rx="4.3" ry="5.0" transform="rotate(0 37.5 449.5)" fill="none" stroke="#111" stroke-width="1.0" />
<ellipse cx="62.5" cy="435.5" rx="9.5" ry="13.5" transform="rotate(-15 62.5 435.5)" fill="#f6f7f6" stroke="#111" stroke-width="1.4" />
<ellipse cx="60.0" cy="436.5" rx="9.5" ry="13.5" transform="rotate(-15 60.0 436.5)" fill="#f6f7f6" stroke="#111" stroke-width="1.4" />
<ellipse cx="60.0" cy="436.5" rx="5.2" ry="7.4" transform="rotate(-15 60.0 436.5)" fill="none" stroke="#111" stroke-width="1.26" />
<path d="M106.9,404.0 L71.9,422.0 A3.0,6.8 152.8 0 0 78.1,434.0 L113.1,416.0 Z" fill="#f6f7f6" stroke="#111" stroke-width="1.3" stroke-linejoin="round" stroke-linecap="round" />
<path d="M96.6,409.7 L101.0,421.8" fill="none" stroke="#111" stroke-width="1.0" stroke-linejoin="round" stroke-linecap="round" />
<path d="M93.9,411.1 L98.3,423.2" fill="none" stroke="#111" stroke-width="1.0" stroke-linejoin="round" stroke-linecap="round" />
<path d="M91.2,412.4 L95.7,424.6" fill="none" stroke="#111" stroke-width="1.0" stroke-linejoin="round" stroke-linecap="round" />
<path d="M88.6,413.8 L93.0,426.0" fill="none" stroke="#111" stroke-width="1.0" stroke-linejoin="round" stroke-linecap="round" />
<path d="M85.9,415.2 L90.3,427.3" fill="none" stroke="#111" stroke-width="1.0" stroke-linejoin="round" stroke-linecap="round" />
<path d="M83.2,416.6 L87.7,428.7" fill="none" stroke="#111" stroke-width="1.0" stroke-linejoin="round" stroke-linecap="round" />
<path d="M80.6,417.9 L85.0,430.1" fill="none" stroke="#111" stroke-width="1.0" stroke-linejoin="round" stroke-linecap="round" />
<path d="M77.9,419.3 L82.3,431.4" fill="none" stroke="#111" stroke-width="1.0" stroke-linejoin="round" stroke-linecap="round" />
<path d="M75.2,420.7 L79.7,432.8" fill="none" stroke="#111" stroke-width="1.0" stroke-linejoin="round" stroke-linecap="round" />
<path d="M104.7,399.2 L112.9,395.4 L118.0,393.0 L125.1,401.6 L127.1,412.6 L119.0,416.4 L113.9,418.8 L106.7,410.2 Z" fill="#f6f7f6" stroke="#111" stroke-width="1.4" stroke-linejoin="round" stroke-linecap="round" />
<path d="M114.9,406.4 L112.9,395.4 L118.0,393.0 L125.1,401.6 L127.1,412.6 L122.0,415.0 Z" fill="none" stroke="#111" stroke-width="1.4" stroke-linejoin="round" stroke-linecap="round" />
<path d="M114.9,406.4 L106.7,410.2" fill="none" stroke="#111" stroke-width="1.1" stroke-linejoin="round" stroke-linecap="round" />
<path d="M112.9,395.4 L104.7,399.2" fill="none" stroke="#111" stroke-width="1.1" stroke-linejoin="round" stroke-linecap="round" />
<path d="M122.0,415.0 L113.9,418.8" fill="none" stroke="#111" stroke-width="1.1" stroke-linejoin="round" stroke-linecap="round" />
<ellipse cx="253.0" cy="588.0" rx="9.0" ry="11.5" transform="rotate(-15 253.0 588.0)" fill="#f6f7f6" stroke="#111" stroke-width="1.4" />
<ellipse cx="251.0" cy="589.0" rx="9.0" ry="11.5" transform="rotate(-15 251.0 589.0)" fill="#f6f7f6" stroke="#111" stroke-width="1.4" />
<ellipse cx="251.0" cy="589.0" rx="4.5" ry="5.8" transform="rotate(-15 251.0 589.0)" fill="none" stroke="#111" stroke-width="1.26" />
<path d="M284.9,566.4 L264.9,573.4 A2.9,6.5 160.7 0 0 269.1,585.6 L289.1,578.6 Z" fill="#f6f7f6" stroke="#111" stroke-width="1.3" stroke-linejoin="round" stroke-linecap="round" />
<path d="M282.0,567.7 L284.5,579.9" fill="none" stroke="#111" stroke-width="1.0" stroke-linejoin="round" stroke-linecap="round" />
<path d="M279.3,568.6 L281.9,580.8" fill="none" stroke="#111" stroke-width="1.0" stroke-linejoin="round" stroke-linecap="round" />
<path d="M276.7,569.6 L279.2,581.8" fill="none" stroke="#111" stroke-width="1.0" stroke-linejoin="round" stroke-linecap="round" />
<path d="M274.0,570.5 L276.6,582.7" fill="none" stroke="#111" stroke-width="1.0" stroke-linejoin="round" stroke-linecap="round" />
<path d="M271.4,571.4 L274.0,583.6" fill="none" stroke="#111" stroke-width="1.0" stroke-linejoin="round" stroke-linecap="round" />
<path d="M268.7,572.3 L271.3,584.5" fill="none" stroke="#111" stroke-width="1.0" stroke-linejoin="round" stroke-linecap="round" />
<path d="M287.7,559.5 L292.5,557.8 L300.0,555.0 L305.9,563.5 L306.9,573.7 L302.0,575.5 L294.5,578.2 L288.6,569.8 Z" fill="#f6f7f6" stroke="#111" stroke-width="1.4" stroke-linejoin="round" stroke-linecap="round" />
<path d="M298.4,566.2 L299.3,576.5 L294.5,578.2 L288.6,569.8 L287.7,559.5 L292.5,557.8 Z" fill="none" stroke="#111" stroke-width="1.4" stroke-linejoin="round" stroke-linecap="round" />
<path d="M298.4,566.2 L305.9,563.5" fill="none" stroke="#111" stroke-width="1.1" stroke-linejoin="round" stroke-linecap="round" />
<path d="M299.3,576.5 L306.9,573.7" fill="none" stroke="#111" stroke-width="1.1" stroke-linejoin="round" stroke-linecap="round" />
<path d="M292.5,557.8 L300.0,555.0" fill="none" stroke="#111" stroke-width="1.1" stroke-linejoin="round" stroke-linecap="round" />
<path d="M208.6,139.8 L221.8,139.8 L278.0,114.0" fill="none" stroke="#111" stroke-width="1.2" stroke-linejoin="round" stroke-linecap="round" />
<path d="M177.8,164.7 L213.0,164.7 L265.8,155.2" fill="none" stroke="#111" stroke-width="1.2" stroke-linejoin="round" stroke-linecap="round" />
<path d="M177.8,189.3 L263.6,186.0" fill="none" stroke="#111" stroke-width="1.2" stroke-linejoin="round" stroke-linecap="round" />
<path d="M190.0,214.2 L210.8,214.2 L263.6,209.0" fill="none" stroke="#111" stroke-width="1.2" stroke-linejoin="round" stroke-linecap="round" />
<path d="M202.0,238.8 L224.0,238.8 L268.0,227.8" fill="none" stroke="#111" stroke-width="1.2" stroke-linejoin="round" stroke-linecap="round" />
<path d="M212.4,261.8 L222.0,261.8 L273.0,306.0" fill="none" stroke="#111" stroke-width="1.2" stroke-linejoin="round" stroke-linecap="round" />
<path d="M80.4,289.0 L38.0,289.0 L35.5,433.0" fill="none" stroke="#111" stroke-width="1.2" stroke-linejoin="round" stroke-linecap="round" />
<path d="M82.8,314.6 L59.5,314.6 L59.5,424.0" fill="none" stroke="#111" stroke-width="1.2" stroke-linejoin="round" stroke-linecap="round" />
<path d="M87.6,339.4 L77.5,339.4 L77.5,420.0" fill="none" stroke="#111" stroke-width="1.2" stroke-linejoin="round" stroke-linecap="round" />
<path d="M567.0,57.6 L583.0,57.6" fill="none" stroke="#111" stroke-width="1.2" stroke-linejoin="round" stroke-linecap="round" />
<path d="M567.0,82.5 L583.0,82.5" fill="none" stroke="#111" stroke-width="1.2" stroke-linejoin="round" stroke-linecap="round" />
<path d="M563.0,107.0 L582.0,106.5" fill="none" stroke="#111" stroke-width="1.2" stroke-linejoin="round" stroke-linecap="round" />
<path d="M861.6,242.0 L861.6,269.0 L875.4,269.0" fill="none" stroke="#111" stroke-width="1.2" stroke-linejoin="round" stroke-linecap="round" />
<path d="M840.3,254.0 L857.8,296.6 L874.0,296.6" fill="none" stroke="#111" stroke-width="1.2" stroke-linejoin="round" stroke-linecap="round" />
<path d="M809.0,271.5 L860.3,321.7 L870.4,321.7" fill="none" stroke="#111" stroke-width="1.2" stroke-linejoin="round" stroke-linecap="round" />
<path d="M622.4,297.8 L656.0,385.4 L675.0,385.4" fill="none" stroke="#111" stroke-width="1.2" stroke-linejoin="round" stroke-linecap="round" />
<path d="M500.0,370.6 L650.0,410.5 L667.0,410.5" fill="none" stroke="#111" stroke-width="1.2" stroke-linejoin="round" stroke-linecap="round" />
<path d="M796.4,366.2 L822.7,366.2 L822.7,414.6 L796.4,414.6" fill="none" stroke="#111" stroke-width="1.2" stroke-linejoin="round" stroke-linecap="round" />
<path d="M822.7,396.6 L846.0,396.6" fill="none" stroke="#111" stroke-width="1.2" stroke-linejoin="round" stroke-linecap="round" />
<path d="M288.8,578.9 L302.3,591.0 L313.0,591.0" fill="none" stroke="#111" stroke-width="1.2" stroke-linejoin="round" stroke-linecap="round" />
<path d="M263.1,595.1 L296.9,616.7 L307.7,616.7" fill="none" stroke="#111" stroke-width="1.2" stroke-linejoin="round" stroke-linecap="round" />
<path d="M187.5,608.6 L291.5,641.0 L306.3,641.0" fill="none" stroke="#111" stroke-width="1.2" stroke-linejoin="round" stroke-linecap="round" />
<text x="83.6" y="140.9" font-size="18.2" textLength="121.4" lengthAdjust="spacingAndGlyphs" class="lb">33078-2202120</text>
<text x="84.3" y="165.1" font-size="18.2" textLength="91.0" lengthAdjust="spacingAndGlyphs" class="lb">201561-П29</text>
<text x="85.8" y="190.0" font-size="18.2" textLength="89.5" lengthAdjust="spacingAndGlyphs" class="lb">252137-П2</text>
<text x="86.5" y="214.6" font-size="18.2" textLength="100.9" lengthAdjust="spacingAndGlyphs" class="lb">250515-П29</text>
<text x="84.3" y="240.0" font-size="18.2" textLength="115.2" lengthAdjust="spacingAndGlyphs" class="lb">53А-2202086</text>
<text x="85.2" y="263.4" font-size="18.2" textLength="126.1" lengthAdjust="spacingAndGlyphs" class="lb">53-2202082-01</text>
<text x="86.0" y="289.0" font-size="18.2" textLength="104.5" lengthAdjust="spacingAndGlyphs" class="lb">250559-П29</text>
<text x="86.8" y="314.6" font-size="18.2" textLength="91.7" lengthAdjust="spacingAndGlyphs" class="lb">252138-П2</text>
<text x="88.4" y="338.6" font-size="18.2" textLength="109.3" lengthAdjust="spacingAndGlyphs" class="lb">45 9348 1666</text>
<text x="588.4" y="57.2" font-size="18.2" textLength="96.9" lengthAdjust="spacingAndGlyphs" class="lb">250515-П29</text>
<text x="587.8" y="81.8" font-size="18.2" textLength="88.5" lengthAdjust="spacingAndGlyphs" class="lb">252137-П2</text>
<text x="587.2" y="107.0" font-size="18.2" textLength="92.1" lengthAdjust="spacingAndGlyphs" class="lb">201561-П29</text>
<text x="880.4" y="269.0" font-size="18.2" textLength="98.7" lengthAdjust="spacingAndGlyphs" class="lb">251815-П29</text>
<text x="877.9" y="294.8" font-size="18.2" textLength="95.0" lengthAdjust="spacingAndGlyphs" class="lb">252137-П2</text>
<text x="875.4" y="320.4" font-size="18.2" textLength="103.7" lengthAdjust="spacingAndGlyphs" class="lb">290863-П29</text>
<text x="677.0" y="385.4" font-size="18.2" textLength="125.3" lengthAdjust="spacingAndGlyphs" class="lb">33078-2201010</text>
<text x="669.3" y="409.6" font-size="18.2" textLength="119.0" lengthAdjust="spacingAndGlyphs" class="lb">3306-2202011</text>
<text x="849.0" y="395.6" font-size="18.2" textLength="111.4" lengthAdjust="spacingAndGlyphs" class="lb">3306-2200011</text>
<text x="315.8" y="591.0" font-size="18.2" textLength="106.3" lengthAdjust="spacingAndGlyphs" class="lb">290856-П29</text>
<text x="311.7" y="616.7" font-size="18.2" textLength="88.8" lengthAdjust="spacingAndGlyphs" class="lb">252137-П2</text>
<text x="309.0" y="641.0" font-size="18.2" textLength="121.2" lengthAdjust="spacingAndGlyphs" class="lb">3306-2200094</text>
<g fill="none" stroke="#c2c4c2" stroke-width="1">
<circle cx="276" cy="346" r="60"/>
<circle cx="276" cy="346" r="41"/>
<path d="M240,362 A40,30 0 0 1 318,332"/>
<path d="M247,372 A34,24 0 0 1 312,348"/>
<path d="M222,388 A62,40 0 0 0 330,388"/>
<path d="M230,398 A56,36 0 0 0 322,398"/>
</g>
<g filter="url(#wmo)" fill="#000">
<path fill-rule="evenodd" d="M537.0,360.5 a30.5,30.5 0 1 0 61.0,0 a30.5,30.5 0 1 0 -61.0,0 Z M547.1,360.5 a20.4,20.4 0 1 1 40.8,0 a20.4,20.4 0 1 1 -40.8,0 Z"/>
<rect x="591.3" y="330.4" width="11.1" height="60"/>
<path d="M613.6,390.4 L613.6,330.4 L649.8,330.4 L649.8,340.9 L624.7,340.9 L624.7,390.4 Z"/>
<rect x="656" y="330.4" width="11.2" height="81"/>
<path fill-rule="evenodd" d="M656.4,360 a31.6,31.6 0 1 0 63.2,0 a31.6,31.6 0 1 0 -63.2,0 Z M667.2,360 a20.8,20.8 0 1 1 41.6,0 a20.8,20.8 0 1 1 -41.6,0 Z"/>
<path fill-rule="evenodd" d="M724.0,360 a31.6,31.6 0 1 0 63.2,0 a31.6,31.6 0 1 0 -63.2,0 Z M735.0,360 a20.6,20.6 0 1 1 41.2,0 a20.6,20.6 0 1 1 -41.2,0 Z"/>
</g>
<text x="355" y="421.5" font-size="26" textLength="268" lengthAdjust="spacingAndGlyphs" fill="#fff" fill-opacity="0.55" stroke="#c2c4c2" stroke-width="1.1" style="font-family:'Liberation Sans',sans-serif">ГРУППА КОМПАНИЙ</text>
<text x="369" y="699.6" font-size="13" textLength="266" lengthAdjust="spacingAndGlyphs" class="cap">Рис. 36. Передача карданная трансмиссии</text>
</svg>
</body></html>
